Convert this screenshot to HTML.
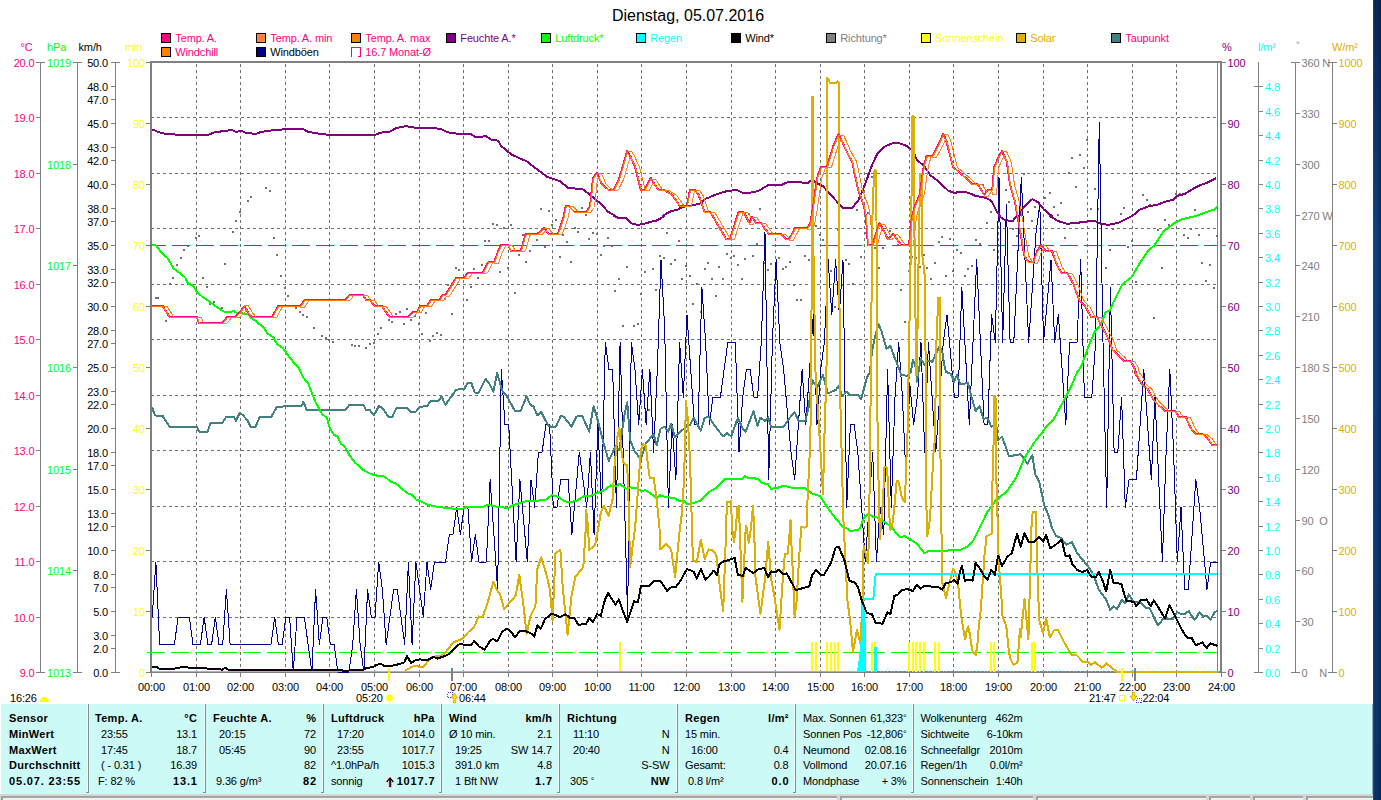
<!DOCTYPE html>
<html><head><meta charset="utf-8"><title>Dienstag, 05.07.2016</title>
<style>html,body{margin:0;padding:0;background:#fff;overflow:hidden}svg{display:block;font-family:"Liberation Sans",sans-serif}text{white-space:pre;letter-spacing:-0.14px}.b{letter-spacing:0.3px}.bd{letter-spacing:0.85px}.c{shape-rendering:crispEdges}</style></head><body>
<svg width="1381" height="800" viewBox="0 0 1381 800">
<defs><linearGradient id="bl" x1="0" y1="0" x2="0" y2="1"><stop offset="0" stop-color="#0a2250"/><stop offset="0.3" stop-color="#0c427f"/><stop offset="0.6" stop-color="#0b3a78"/><stop offset="1" stop-color="#0a2f66"/></linearGradient><linearGradient id="bl2" x1="0" y1="0" x2="1" y2="0"><stop offset="0" stop-color="#1a62b4" stop-opacity="0.7"/><stop offset="0.25" stop-color="#0c3f80" stop-opacity="0"/><stop offset="1" stop-color="#061a3c" stop-opacity="0.6"/></linearGradient></defs>
<rect x="0" y="0" width="1381" height="800" fill="#fff" />
<text x="688" y="21" fill="#000" text-anchor="middle" font-size="16" style="letter-spacing:0">Dienstag, 05.07.2016</text>
<rect class="c" x="161.5" y="33.5" width="9" height="9" fill="#ff0080" stroke="#000" stroke-width="1"/>
<text x="175.3" y="42" fill="#ff0080" text-anchor="start" font-size="11" >Temp. A.</text>
<rect class="c" x="256.5" y="33.5" width="9" height="9" fill="#ff8040" stroke="#000" stroke-width="1"/>
<text x="270.3" y="42" fill="#ff0080" text-anchor="start" font-size="11" >Temp. A. min</text>
<rect class="c" x="351.5" y="33.5" width="9" height="9" fill="#ff8000" stroke="#000" stroke-width="1"/>
<text x="365.3" y="42" fill="#ff0080" text-anchor="start" font-size="11" >Temp. A. max</text>
<rect class="c" x="446.5" y="33.5" width="9" height="9" fill="#800080" stroke="#000" stroke-width="1"/>
<text x="460.3" y="42" fill="#800080" text-anchor="start" font-size="11" >Feuchte A.*</text>
<rect class="c" x="541.5" y="33.5" width="9" height="9" fill="#00ff00" stroke="#000" stroke-width="1"/>
<text x="555.3" y="42" fill="#00ff00" text-anchor="start" font-size="11" >Luftdruck*</text>
<rect class="c" x="636.5" y="33.5" width="9" height="9" fill="#00ffff" stroke="#000" stroke-width="1"/>
<text x="650.3" y="42" fill="#00ffff" text-anchor="start" font-size="11" >Regen</text>
<rect class="c" x="731.5" y="33.5" width="9" height="9" fill="#000" stroke="#000" stroke-width="1"/>
<text x="745.3" y="42" fill="#000" text-anchor="start" font-size="11" >Wind*</text>
<rect class="c" x="826.5" y="33.5" width="9" height="9" fill="#808080" stroke="#000" stroke-width="1"/>
<text x="840.3" y="42" fill="#808080" text-anchor="start" font-size="11" >Richtung*</text>
<rect class="c" x="921.5" y="33.5" width="9" height="9" fill="#ffff00" stroke="#000" stroke-width="1"/>
<text x="935.3" y="42" fill="#ffff00" text-anchor="start" font-size="11" >Sonnenschein</text>
<rect class="c" x="1016.5" y="33.5" width="9" height="9" fill="#dcb000" stroke="#000" stroke-width="1"/>
<text x="1030.3" y="42" fill="#dcb000" text-anchor="start" font-size="11" >Solar</text>
<rect class="c" x="1111.5" y="33.5" width="9" height="9" fill="#408080" stroke="#000" stroke-width="1"/>
<text x="1125.3" y="42" fill="#ff0080" text-anchor="start" font-size="11" >Taupunkt</text>
<rect class="c" x="161.5" y="47.5" width="9" height="9" fill="#ff8000" stroke="#000" stroke-width="1"/>
<text x="175.3" y="56" fill="#ff0080" text-anchor="start" font-size="11" >Windchill</text>
<rect class="c" x="256.5" y="47.5" width="9" height="9" fill="#00008b" stroke="#000" stroke-width="1"/>
<text x="270.3" y="56" fill="#000" text-anchor="start" font-size="11" >Windböen</text>
<path class="c" d="M351.5 56.5V47.5H360.5V56.5H357.5" fill="none" stroke="#ff0080" stroke-width="1"/>
<text x="365.3" y="56" fill="#ff0080" text-anchor="start" font-size="11" >16.7 Monat-Ø</text>
<g class="c" stroke="#707070" stroke-width="1" stroke-dasharray="3 3" fill="none">
<line x1="196.5" y1="64" x2="196.5" y2="671"/>
<line x1="240.5" y1="64" x2="240.5" y2="671"/>
<line x1="285.5" y1="64" x2="285.5" y2="671"/>
<line x1="329.5" y1="64" x2="329.5" y2="671"/>
<line x1="374.5" y1="64" x2="374.5" y2="671"/>
<line x1="419.5" y1="64" x2="419.5" y2="671"/>
<line x1="463.5" y1="64" x2="463.5" y2="671"/>
<line x1="508.5" y1="64" x2="508.5" y2="671"/>
<line x1="552.5" y1="64" x2="552.5" y2="671"/>
<line x1="597.5" y1="64" x2="597.5" y2="671"/>
<line x1="641.5" y1="64" x2="641.5" y2="671"/>
<line x1="686.5" y1="64" x2="686.5" y2="671"/>
<line x1="731.5" y1="64" x2="731.5" y2="671"/>
<line x1="775.5" y1="64" x2="775.5" y2="671"/>
<line x1="820.5" y1="64" x2="820.5" y2="671"/>
<line x1="864.5" y1="64" x2="864.5" y2="671"/>
<line x1="909.5" y1="64" x2="909.5" y2="671"/>
<line x1="953.5" y1="64" x2="953.5" y2="671"/>
<line x1="998.5" y1="64" x2="998.5" y2="671"/>
<line x1="1043.5" y1="64" x2="1043.5" y2="671"/>
<line x1="1087.5" y1="64" x2="1087.5" y2="671"/>
<line x1="1132.5" y1="64" x2="1132.5" y2="671"/>
<line x1="1176.5" y1="64" x2="1176.5" y2="671"/>
<line x1="151" y1="117.5" x2="1217" y2="117.5"/>
<line x1="151" y1="173.5" x2="1217" y2="173.5"/>
<line x1="151" y1="228.5" x2="1217" y2="228.5"/>
<line x1="151" y1="284.5" x2="1217" y2="284.5"/>
<line x1="151" y1="339.5" x2="1217" y2="339.5"/>
<line x1="151" y1="395.5" x2="1217" y2="395.5"/>
<line x1="151" y1="450.5" x2="1217" y2="450.5"/>
<line x1="151" y1="506.5" x2="1217" y2="506.5"/>
<line x1="151" y1="561.5" x2="1217" y2="561.5"/>
<line x1="151" y1="617.5" x2="1217" y2="617.5"/>
</g>
<g class="c">
<rect x="150" y="61" width="2" height="612" fill="#808080" />
<rect x="150" y="61" width="1072" height="2" fill="#808080" />
<rect x="1217" y="62" width="1" height="610" fill="#808080" />
<rect x="1220" y="61" width="2" height="612" fill="#808080" />
<rect x="150" y="671" width="1072" height="2" fill="#808080" />
</g>
<g class="c" stroke-linejoin="round">
<rect x="265" y="187" width="2" height="2" fill="#707070" />
<rect x="269" y="190" width="2" height="2" fill="#707070" />
<rect x="250" y="196" width="2" height="2" fill="#707070" />
<rect x="247" y="200" width="2" height="2" fill="#707070" />
<rect x="239" y="211" width="2" height="2" fill="#707070" />
<rect x="235" y="220" width="2" height="2" fill="#707070" />
<rect x="232" y="231" width="2" height="2" fill="#707070" />
<rect x="198" y="235" width="2" height="2" fill="#707070" />
<rect x="195" y="237" width="2" height="2" fill="#707070" />
<rect x="187" y="245" width="2" height="2" fill="#707070" />
<rect x="183" y="249" width="2" height="2" fill="#707070" />
<rect x="180" y="257" width="2" height="2" fill="#707070" />
<rect x="176" y="264" width="2" height="2" fill="#707070" />
<rect x="172" y="277" width="2" height="2" fill="#707070" />
<rect x="169" y="283" width="2" height="2" fill="#707070" />
<rect x="155" y="297" width="2" height="2" fill="#707070" />
<rect x="157" y="297" width="2" height="2" fill="#707070" />
<rect x="165" y="320" width="2" height="2" fill="#707070" />
<rect x="224" y="263" width="2" height="2" fill="#707070" />
<rect x="202" y="277" width="2" height="2" fill="#707070" />
<rect x="206" y="286" width="2" height="2" fill="#707070" />
<rect x="209" y="303" width="2" height="2" fill="#707070" />
<rect x="213" y="301" width="2" height="2" fill="#707070" />
<rect x="221" y="307" width="2" height="2" fill="#707070" />
<rect x="273" y="237" width="2" height="2" fill="#707070" />
<rect x="276" y="254" width="2" height="2" fill="#707070" />
<rect x="280" y="275" width="2" height="2" fill="#707070" />
<rect x="284" y="287" width="2" height="2" fill="#707070" />
<rect x="287" y="295" width="2" height="2" fill="#707070" />
<rect x="295" y="307" width="2" height="2" fill="#707070" />
<rect x="299" y="311" width="2" height="2" fill="#707070" />
<rect x="302" y="314" width="2" height="2" fill="#707070" />
<rect x="306" y="316" width="2" height="2" fill="#707070" />
<rect x="313" y="327" width="2" height="2" fill="#707070" />
<rect x="321" y="335" width="2" height="2" fill="#707070" />
<rect x="325" y="337" width="2" height="2" fill="#707070" />
<rect x="328" y="339" width="2" height="2" fill="#707070" />
<rect x="332" y="341" width="2" height="2" fill="#707070" />
<rect x="351" y="344" width="2" height="2" fill="#707070" />
<rect x="354" y="345" width="2" height="2" fill="#707070" />
<rect x="358" y="345" width="2" height="2" fill="#707070" />
<rect x="365" y="347" width="2" height="2" fill="#707070" />
<rect x="369" y="343" width="2" height="2" fill="#707070" />
<rect x="373" y="342" width="2" height="2" fill="#707070" />
<rect x="377" y="333" width="2" height="2" fill="#707070" />
<rect x="380" y="327" width="2" height="2" fill="#707070" />
<rect x="388" y="319" width="2" height="2" fill="#707070" />
<rect x="391" y="321" width="2" height="2" fill="#707070" />
<rect x="395" y="313" width="2" height="2" fill="#707070" />
<rect x="399" y="311" width="2" height="2" fill="#707070" />
<rect x="403" y="323" width="2" height="2" fill="#707070" />
<rect x="406" y="308" width="2" height="2" fill="#707070" />
<rect x="410" y="319" width="2" height="2" fill="#707070" />
<rect x="414" y="315" width="2" height="2" fill="#707070" />
<rect x="418" y="323" width="2" height="2" fill="#707070" />
<rect x="492" y="223" width="2" height="2" fill="#707070" />
<rect x="496" y="224" width="2" height="2" fill="#707070" />
<rect x="503" y="227" width="2" height="2" fill="#707070" />
<rect x="510" y="224" width="2" height="2" fill="#707070" />
<rect x="484" y="240" width="2" height="2" fill="#707070" />
<rect x="488" y="240" width="2" height="2" fill="#707070" />
<rect x="455" y="267" width="2" height="2" fill="#707070" />
<rect x="458" y="269" width="2" height="2" fill="#707070" />
<rect x="473" y="268" width="2" height="2" fill="#707070" />
<rect x="481" y="264" width="2" height="2" fill="#707070" />
<rect x="477" y="277" width="2" height="2" fill="#707070" />
<rect x="499" y="271" width="2" height="2" fill="#707070" />
<rect x="507" y="267" width="2" height="2" fill="#707070" />
<rect x="447" y="284" width="2" height="2" fill="#707070" />
<rect x="470" y="286" width="2" height="2" fill="#707070" />
<rect x="466" y="299" width="2" height="2" fill="#707070" />
<rect x="444" y="298" width="2" height="2" fill="#707070" />
<rect x="425" y="312" width="2" height="2" fill="#707070" />
<rect x="451" y="313" width="2" height="2" fill="#707070" />
<rect x="421" y="333" width="2" height="2" fill="#707070" />
<rect x="429" y="340" width="2" height="2" fill="#707070" />
<rect x="432" y="335" width="2" height="2" fill="#707070" />
<rect x="436" y="332" width="2" height="2" fill="#707070" />
<rect x="440" y="334" width="2" height="2" fill="#707070" />
<rect x="514" y="292" width="2" height="2" fill="#707070" />
<rect x="518" y="254" width="2" height="2" fill="#707070" />
<rect x="522" y="234" width="2" height="2" fill="#707070" />
<rect x="525" y="261" width="2" height="2" fill="#707070" />
<rect x="529" y="250" width="2" height="2" fill="#707070" />
<rect x="536" y="239" width="2" height="2" fill="#707070" />
<rect x="544" y="246" width="2" height="2" fill="#707070" />
<rect x="551" y="224" width="2" height="2" fill="#707070" />
<rect x="555" y="219" width="2" height="2" fill="#707070" />
<rect x="559" y="256" width="2" height="2" fill="#707070" />
<rect x="562" y="234" width="2" height="2" fill="#707070" />
<rect x="566" y="241" width="2" height="2" fill="#707070" />
<rect x="570" y="261" width="2" height="2" fill="#707070" />
<rect x="574" y="227" width="2" height="2" fill="#707070" />
<rect x="577" y="231" width="2" height="2" fill="#707070" />
<rect x="588" y="238" width="2" height="2" fill="#707070" />
<rect x="592" y="232" width="2" height="2" fill="#707070" />
<rect x="596" y="233" width="2" height="2" fill="#707070" />
<rect x="600" y="254" width="2" height="2" fill="#707070" />
<rect x="603" y="245" width="2" height="2" fill="#707070" />
<rect x="607" y="237" width="2" height="2" fill="#707070" />
<rect x="611" y="245" width="2" height="2" fill="#707070" />
<rect x="614" y="290" width="2" height="2" fill="#707070" />
<rect x="618" y="278" width="2" height="2" fill="#707070" />
<rect x="622" y="325" width="2" height="2" fill="#707070" />
<rect x="626" y="266" width="2" height="2" fill="#707070" />
<rect x="633" y="325" width="2" height="2" fill="#707070" />
<rect x="637" y="323" width="2" height="2" fill="#707070" />
<rect x="640" y="293" width="2" height="2" fill="#707070" />
<rect x="644" y="271" width="2" height="2" fill="#707070" />
<rect x="652" y="268" width="2" height="2" fill="#707070" />
<rect x="655" y="289" width="2" height="2" fill="#707070" />
<rect x="659" y="255" width="2" height="2" fill="#707070" />
<rect x="663" y="257" width="2" height="2" fill="#707070" />
<rect x="666" y="232" width="2" height="2" fill="#707070" />
<rect x="670" y="263" width="2" height="2" fill="#707070" />
<rect x="674" y="259" width="2" height="2" fill="#707070" />
<rect x="678" y="240" width="2" height="2" fill="#707070" />
<rect x="681" y="278" width="2" height="2" fill="#707070" />
<rect x="685" y="265" width="2" height="2" fill="#707070" />
<rect x="689" y="275" width="2" height="2" fill="#707070" />
<rect x="540" y="208" width="2" height="2" fill="#707070" />
<rect x="548" y="210" width="2" height="2" fill="#707070" />
<rect x="581" y="207" width="2" height="2" fill="#707070" />
<rect x="585" y="214" width="2" height="2" fill="#707070" />
<rect x="982" y="184" width="2" height="2" fill="#707070" />
<rect x="1005" y="189" width="2" height="2" fill="#707070" />
<rect x="1008" y="201" width="2" height="2" fill="#707070" />
<rect x="990" y="211" width="2" height="2" fill="#707070" />
<rect x="1023" y="173" width="2" height="2" fill="#707070" />
<rect x="1027" y="211" width="2" height="2" fill="#707070" />
<rect x="1034" y="206" width="2" height="2" fill="#707070" />
<rect x="1038" y="203" width="2" height="2" fill="#707070" />
<rect x="1044" y="197" width="2" height="2" fill="#707070" />
<rect x="1049" y="192" width="2" height="2" fill="#707070" />
<rect x="1053" y="206" width="2" height="2" fill="#707070" />
<rect x="1057" y="214" width="2" height="2" fill="#707070" />
<rect x="1060" y="202" width="2" height="2" fill="#707070" />
<rect x="1068" y="172" width="2" height="2" fill="#707070" />
<rect x="1071" y="157" width="2" height="2" fill="#707070" />
<rect x="1075" y="186" width="2" height="2" fill="#707070" />
<rect x="1079" y="154" width="2" height="2" fill="#707070" />
<rect x="1083" y="167" width="2" height="2" fill="#707070" />
<rect x="1086" y="139" width="2" height="2" fill="#707070" />
<rect x="1090" y="208" width="2" height="2" fill="#707070" />
<rect x="1094" y="188" width="2" height="2" fill="#707070" />
<rect x="1097" y="208" width="2" height="2" fill="#707070" />
<rect x="1120" y="213" width="2" height="2" fill="#707070" />
<rect x="1123" y="207" width="2" height="2" fill="#707070" />
<rect x="1142" y="194" width="2" height="2" fill="#707070" />
<rect x="1146" y="199" width="2" height="2" fill="#707070" />
<rect x="1149" y="204" width="2" height="2" fill="#707070" />
<rect x="1175" y="193" width="2" height="2" fill="#707070" />
<rect x="1179" y="193" width="2" height="2" fill="#707070" />
<rect x="1194" y="209" width="2" height="2" fill="#707070" />
<rect x="759" y="208" width="2" height="2" fill="#707070" />
<rect x="748" y="213" width="2" height="2" fill="#707070" />
<rect x="856" y="209" width="2" height="2" fill="#707070" />
<rect x="871" y="176" width="2" height="2" fill="#707070" />
<rect x="867" y="212" width="2" height="2" fill="#707070" />
<rect x="986" y="222" width="2" height="2" fill="#707070" />
<rect x="975" y="239" width="2" height="2" fill="#707070" />
<rect x="979" y="243" width="2" height="2" fill="#707070" />
<rect x="960" y="252" width="2" height="2" fill="#707070" />
<rect x="993" y="249" width="2" height="2" fill="#707070" />
<rect x="967" y="268" width="2" height="2" fill="#707070" />
<rect x="971" y="265" width="2" height="2" fill="#707070" />
<rect x="964" y="275" width="2" height="2" fill="#707070" />
<rect x="1012" y="228" width="2" height="2" fill="#707070" />
<rect x="1016" y="235" width="2" height="2" fill="#707070" />
<rect x="1031" y="220" width="2" height="2" fill="#707070" />
<rect x="1064" y="237" width="2" height="2" fill="#707070" />
<rect x="1105" y="267" width="2" height="2" fill="#707070" />
<rect x="1109" y="249" width="2" height="2" fill="#707070" />
<rect x="1112" y="228" width="2" height="2" fill="#707070" />
<rect x="1127" y="246" width="2" height="2" fill="#707070" />
<rect x="1131" y="240" width="2" height="2" fill="#707070" />
<rect x="1135" y="281" width="2" height="2" fill="#707070" />
<rect x="1153" y="317" width="2" height="2" fill="#707070" />
<rect x="1157" y="229" width="2" height="2" fill="#707070" />
<rect x="1161" y="267" width="2" height="2" fill="#707070" />
<rect x="1164" y="219" width="2" height="2" fill="#707070" />
<rect x="1168" y="224" width="2" height="2" fill="#707070" />
<rect x="1183" y="234" width="2" height="2" fill="#707070" />
<rect x="1187" y="237" width="2" height="2" fill="#707070" />
<rect x="1190" y="228" width="2" height="2" fill="#707070" />
<rect x="1198" y="234" width="2" height="2" fill="#707070" />
<rect x="1201" y="262" width="2" height="2" fill="#707070" />
<rect x="1205" y="280" width="2" height="2" fill="#707070" />
<rect x="1209" y="264" width="2" height="2" fill="#707070" />
<rect x="1213" y="287" width="2" height="2" fill="#707070" />
<rect x="1216" y="235" width="2" height="2" fill="#707070" />
<rect x="689" y="275" width="2" height="2" fill="#707070" />
<rect x="692" y="303" width="2" height="2" fill="#707070" />
<rect x="696" y="283" width="2" height="2" fill="#707070" />
<rect x="700" y="311" width="2" height="2" fill="#707070" />
<rect x="704" y="268" width="2" height="2" fill="#707070" />
<rect x="707" y="262" width="2" height="2" fill="#707070" />
<rect x="711" y="278" width="2" height="2" fill="#707070" />
<rect x="715" y="295" width="2" height="2" fill="#707070" />
<rect x="718" y="266" width="2" height="2" fill="#707070" />
<rect x="722" y="278" width="2" height="2" fill="#707070" />
<rect x="726" y="253" width="2" height="2" fill="#707070" />
<rect x="730" y="257" width="2" height="2" fill="#707070" />
<rect x="733" y="255" width="2" height="2" fill="#707070" />
<rect x="737" y="264" width="2" height="2" fill="#707070" />
<rect x="741" y="278" width="2" height="2" fill="#707070" />
<rect x="744" y="258" width="2" height="2" fill="#707070" />
<rect x="752" y="255" width="2" height="2" fill="#707070" />
<rect x="756" y="243" width="2" height="2" fill="#707070" />
<rect x="763" y="262" width="2" height="2" fill="#707070" />
<rect x="767" y="269" width="2" height="2" fill="#707070" />
<rect x="770" y="263" width="2" height="2" fill="#707070" />
<rect x="774" y="279" width="2" height="2" fill="#707070" />
<rect x="778" y="257" width="2" height="2" fill="#707070" />
<rect x="782" y="268" width="2" height="2" fill="#707070" />
<rect x="785" y="266" width="2" height="2" fill="#707070" />
<rect x="789" y="261" width="2" height="2" fill="#707070" />
<rect x="793" y="284" width="2" height="2" fill="#707070" />
<rect x="796" y="299" width="2" height="2" fill="#707070" />
<rect x="800" y="299" width="2" height="2" fill="#707070" />
<rect x="804" y="255" width="2" height="2" fill="#707070" />
<rect x="808" y="259" width="2" height="2" fill="#707070" />
<rect x="811" y="231" width="2" height="2" fill="#707070" />
<rect x="815" y="225" width="2" height="2" fill="#707070" />
<rect x="819" y="234" width="2" height="2" fill="#707070" />
<rect x="822" y="239" width="2" height="2" fill="#707070" />
<rect x="830" y="270" width="2" height="2" fill="#707070" />
<rect x="834" y="306" width="2" height="2" fill="#707070" />
<rect x="837" y="229" width="2" height="2" fill="#707070" />
<rect x="841" y="284" width="2" height="2" fill="#707070" />
<rect x="845" y="259" width="2" height="2" fill="#707070" />
<rect x="848" y="263" width="2" height="2" fill="#707070" />
<rect x="852" y="283" width="2" height="2" fill="#707070" />
<rect x="860" y="256" width="2" height="2" fill="#707070" />
<rect x="864" y="232" width="2" height="2" fill="#707070" />
<rect x="874" y="247" width="2" height="2" fill="#707070" />
<rect x="878" y="267" width="2" height="2" fill="#707070" />
<rect x="882" y="247" width="2" height="2" fill="#707070" />
<rect x="889" y="230" width="2" height="2" fill="#707070" />
<rect x="897" y="244" width="2" height="2" fill="#707070" />
<rect x="900" y="289" width="2" height="2" fill="#707070" />
<rect x="904" y="321" width="2" height="2" fill="#707070" />
<rect x="908" y="270" width="2" height="2" fill="#707070" />
<rect x="911" y="256" width="2" height="2" fill="#707070" />
<rect x="915" y="257" width="2" height="2" fill="#707070" />
<rect x="919" y="266" width="2" height="2" fill="#707070" />
<rect x="923" y="254" width="2" height="2" fill="#707070" />
<rect x="926" y="267" width="2" height="2" fill="#707070" />
<rect x="930" y="278" width="2" height="2" fill="#707070" />
<rect x="934" y="262" width="2" height="2" fill="#707070" />
<rect x="938" y="241" width="2" height="2" fill="#707070" />
<rect x="941" y="236" width="2" height="2" fill="#707070" />
<rect x="945" y="275" width="2" height="2" fill="#707070" />
<rect x="949" y="238" width="2" height="2" fill="#707070" />
<rect x="952" y="270" width="2" height="2" fill="#707070" />
<rect x="956" y="249" width="2" height="2" fill="#707070" />
<rect x="648" y="409" width="2" height="2" fill="#707070" />
<line x1="148" y1="245.5" x2="1217" y2="245.5" stroke="#ff0080" stroke-width="1" stroke-dasharray="18 6"/>
<line x1="147" y1="652.5" x2="1217" y2="652.5" stroke="#00ff00" stroke-width="1" stroke-dasharray="18 6"/>
<rect x="619" y="642" width="2" height="30" fill="#ffff00" />
<rect x="811" y="642" width="2" height="30" fill="#ffff00" />
<rect x="815" y="642" width="2" height="30" fill="#ffff00" />
<rect x="826" y="642" width="2" height="30" fill="#ffff00" />
<rect x="830" y="642" width="2" height="30" fill="#ffff00" />
<rect x="834" y="642" width="2" height="30" fill="#ffff00" />
<rect x="837" y="642" width="2" height="30" fill="#ffff00" />
<rect x="871" y="642" width="2" height="30" fill="#ffff00" />
<rect x="874" y="642" width="2" height="30" fill="#ffff00" />
<rect x="908" y="642" width="2" height="30" fill="#ffff00" />
<rect x="912" y="642" width="2" height="30" fill="#ffff00" />
<rect x="915" y="642" width="2" height="30" fill="#ffff00" />
<rect x="919" y="642" width="2" height="30" fill="#ffff00" />
<rect x="923" y="642" width="2" height="30" fill="#ffff00" />
<rect x="934" y="642" width="2" height="30" fill="#ffff00" />
<rect x="938" y="642" width="2" height="30" fill="#ffff00" />
<rect x="990" y="642" width="2" height="30" fill="#ffff00" />
<rect x="993" y="642" width="2" height="30" fill="#ffff00" />
<rect x="1031" y="642" width="2" height="30" fill="#ffff00" />
<rect x="1034" y="642" width="2" height="30" fill="#ffff00" />
<polyline points="152.2,617 155.9,562 159.6,644.5 163.3,644.5 167,644.5 170.7,644.5 174.4,644.5 178.1,617 181.9,617 185.6,617 189.3,617 193,644.5 196.7,644.5 200.4,644.5 204.1,617 207.9,644.5 211.6,644.5 215.3,617 219,644.5 222.7,644.5 226.4,589.5 230.1,644.5 233.9,644.5 237.6,644.5 241.3,644.5 245,644.5 248.7,644.5 252.4,644.5 256.1,644.5 259.9,644.5 263.6,644.5 267.3,644.5 271,644.5 274.7,617 278.4,644.5 282.1,644.5 285.9,617 289.6,617 293.3,672 297,617 300.7,617 304.4,617 308.1,644.5 311.9,672 315.6,589.5 319.3,644.5 323,617 326.7,617 330.4,644.5 334.1,644.5 337.9,672 341.6,672 345.3,672 349,672 352.7,644.5 356.4,589.5 360.1,644.5 363.9,672 367.6,589.5 371.3,617 375,617 378.7,562 382.4,589.5 386.1,644.5 389.9,617 393.6,589.5 397.3,589.5 401,617 404.7,644.5 408.4,562 412.1,644.5 415.9,562 419.6,589.5 423.3,617 427,562 430.7,589.5 434.4,562 438.1,562 441.9,562 445.6,562 449.3,534.5 453,534.5 456.7,507.1 460.4,534.5 464.1,507.1 467.9,507.1 471.6,562 475.3,534.5 479,562 482.7,562 486.4,562 490.1,479.6 493.9,534.5 497.6,589.5 501.3,369.6 505,424.6 508.7,424.6 512.4,493.3 516.1,562 519.9,479.6 523.6,520.8 527.3,562 531,479.6 534.7,507.1 538.4,452.1 542.1,452.1 545.9,424.6 549.6,424.6 553.3,507.1 557,507.1 560.7,479.6 564.4,479.6 568.1,479.6 571.9,534.5 575.6,493.3 579.3,452.1 583,479.6 586.7,507.1 590.4,452.1 594.1,534.5 597.9,424.6 601.6,507.1 605.3,342.1 609,369.6 612.7,369.6 616.4,507.1 620.1,342.1 623.9,479.6 627.6,617 631.3,342.1 635,369.6 638.7,424.6 642.4,369.6 646.1,424.6 649.9,369.6 653.6,452.1 657.3,369.6 661,259.7 664.7,328.4 668.4,507.1 672.1,424.6 675.9,479.6 679.6,342.1 683.3,397.1 687,314.6 690.7,369.6 694.4,424.6 698.1,424.6 701.9,287.1 705.6,342.1 709.3,424.6 713,397.1 716.7,397.1 720.4,397.1 724.1,369.6 727.9,342.1 731.6,342.1 735.3,342.1 739,452.1 742.7,397.1 746.4,369.6 750.1,369.6 753.9,397.1 757.6,397.1 761.3,342.1 765,232.2 768.7,479.6 772.4,342.1 776.1,259.7 779.8,342.1 783.6,369.6 787.3,410.8 791,452.1 794.7,479.6 798.4,424.6 802.1,369.6 805.8,424.6 809.6,369.6 813.3,314.6 817,424.6 820.7,369.6 824.4,342.1 828.1,259.7 831.8,314.6 835.6,259.7 839.3,314.6 843,259.7 846.7,507.1 850.4,424.6 854.1,424.6 857.8,452.1 861.6,507.1 865.3,562 869,507.1 872.7,452.1 876.4,562 880.1,507.1 883.8,534.5 887.6,369.6 891.3,507.1 895,397.1 898.7,342.1 902.4,397.1 906.1,479.6 909.8,383.4 913.6,424.6 917.3,397.1 921,342.1 924.7,452.1 928.4,342.1 932.1,397.1 935.8,452.1 939.6,397.1 943.3,342.1 947,314.6 950.7,355.9 954.4,397.1 958.1,397.1 961.8,287.1 965.6,355.9 969.3,424.6 973,342.1 976.7,259.7 980.4,342.1 984.1,424.6 987.8,424.6 991.6,314.6 995.3,342.1 999,177.2 1002.7,342.1 1006.4,204.7 1010.1,342.1 1013.8,342.1 1017.6,259.7 1021.3,177.2 1025,259.7 1028.7,342.1 1032.4,287.1 1036.1,232.2 1039.8,204.7 1043.6,342.1 1047.3,300.9 1051,259.7 1054.7,342.1 1058.4,314.6 1062.1,369.6 1065.8,424.6 1069.6,342.1 1073.3,342.1 1077,342.1 1080.7,259.7 1084.4,397.1 1088.1,397.1 1091.8,397.1 1095.6,342.1 1099.3,122.2 1103,342.1 1106.7,507.1 1110.4,287.1 1114.1,452.1 1117.8,452.1 1121.6,397.1 1125.3,507.1 1129,479.6 1132.7,479.6 1136.4,479.6 1140.1,424.6 1143.8,369.6 1147.6,424.6 1151.3,479.6 1155,397.1 1158.7,479.6 1162.4,562 1166.1,452.1 1169.8,369.6 1173.6,452.1 1177.3,562 1181,507.1 1184.7,589.5 1188.4,589.5 1192.1,534.5 1195.8,479.6 1199.6,507.1 1203.3,548.3 1207,589.5 1210.7,562 1214.4,562 1218.1,562" fill="none" stroke="#00008b" stroke-width="1" />
<polyline points="152,407.2 154.9,415.4 162.7,416 169.6,426.7 196.9,426.7 198.9,431.6 207.7,431.6 210.6,423.2 222.3,422.8 226.2,417 234.1,417 236,420.9 239.9,412.7 243.8,416 247.8,420.9 250.7,426.7 255.6,426.7 259.5,417.4 271.2,417 277.1,406.6 301.5,406.2 303.5,401.7 306.4,409.7 345.5,409.7 349.4,404.8 363.1,404.8 366,409.7 369.9,410.1 373.9,415.4 378.7,406.2 381.7,407.2 388.5,416.6 392.4,416.6 396.3,408.2 407.1,408.2 411,411.7 415.9,411.7 420,406.8 426.8,406.2 430.8,401.3 438.6,400.9 441.5,396.4 445.4,404.8 456.2,389.6 464,389.2 467.9,382.8 471.2,382.8 474.7,392.5 478.7,392.5 485.5,378.8 489.4,383.7 493.3,391.6 497.2,373 502.1,390.6 507,396.4 514.8,410.7 520.7,410.7 526.6,396.4 530.5,405.2 533.4,406.2 537.3,415.4 541.2,412.1 548.1,425.2 551,426.7 555.9,426.7 560.8,416 563.7,416.6 571.5,426.7 576.4,416.6 582.3,416 589.1,431.6 593.6,406.2 596.9,417 602.8,440.4 608.7,461 615.5,446.3 619.4,450.2 624.3,416 627.2,402.3 630.2,440.4 635.1,452.2 640.9,459 645.8,443.4 653.6,434.2 656.6,445.3 660.5,428.7 664.4,426.7 668.3,431.6 671.2,423.8 675.1,437.5 680,431.6 690,424.8 693.9,417.9 700.8,430.7 704.7,417.9 708.6,416.6 715.4,426.7 723.2,436.5 727.1,433 731.1,436.5 737.9,417.9 742.8,428.7 745.7,431.6 753.5,411.1 757.5,425.8 760.4,417.9 765.3,420.9 768.2,417.4 771.1,426.7 783.8,426.7 789.7,417.9 794.6,412.1 798.5,420.9 805.4,420.9 808.3,409.1 812.2,379.8 817.1,387.6 822.9,374.9 827.8,393.5 835.7,390 838.6,386.1 842.5,396.4 846.4,391.6 849.3,394.5 858.1,395.1 861.1,399 866.9,377.9 869.9,372 871.8,352.9 874.8,337.2 878.7,324.5 881.6,331.4 886.5,348.9 890.4,346 894.3,356.8 898.2,366.5 900.2,372 901.2,374.9 907,375.9 910.9,372 912.9,359.7 916.8,370.5 916.8,381.8 920.7,358.7 924.6,364.6 927.5,360.7 932.4,361.7 936.3,352.9 939.3,347 942.2,350.9 944.2,364.6 946.1,372 951,374 953.9,381.8 956.9,374.9 960,383.7 963.9,383.7 967.8,382.8 971.7,397.4 975.6,411.1 979.6,406.2 983.5,418.9 987.4,417.9 991.3,426.7 996.2,424.8 998.1,440.4 1002,436.5 1005.9,447.3 1008.9,456.1 1016.7,455.1 1020.6,454.1 1027.5,463.9 1032.3,455.1 1035.3,474.6 1039.2,481.5 1044.1,504.9 1049,516.7 1051.9,528 1055.8,535.8 1060.7,537.8 1066.6,544.6 1071.8,542.1 1077.3,553.4 1087.1,565.1 1092.9,573.4 1098.8,589.6 1106.6,600.3 1110.2,610.1 1113.5,606.2 1117,609.1 1121.9,599.9 1125.2,603.3 1128.7,594.5 1134,602.3 1139.9,601.3 1145.7,608.2 1149.6,608.2 1157.9,625.4 1163.3,618.9 1173.1,618.9 1177,612.1 1180.9,614 1184.8,614 1188.7,611.1 1194.6,619.9 1199.5,612.1 1202.4,616 1206.7,615.6 1210.3,619.9 1215.1,611.7 1217.7,611.1" fill="none" stroke="#408080" stroke-width="2" />
<polyline points="152,244.9 155.9,245.3 161.7,253.1 167.6,258 173.5,268.4 179.3,272.7 185.2,277.6 188.1,283.5 193,285.4 196.9,292.2 202.8,297.1 208.7,301 216.5,306.9 223.3,311.4 228.2,312.2 234.1,311.2 237,313.2 247.8,313.8 250.7,317.7 256.6,321.6 263.4,327.4 267.3,333.3 273.2,337.2 277.1,344.1 282.9,348 286.9,353.8 293.7,362.6 298.6,367.5 300.5,372 303.5,377.9 308.4,383.7 312.3,394.5 316.2,403.3 322,414 326.9,417.9 329.9,428.7 333.8,434.6 337.7,436.5 340.6,443.4 344.5,446.3 349.4,455.1 355.3,462.9 363.1,469.8 370.9,474.1 376.8,475.6 384.6,476.6 390.5,481.5 396.3,483.8 402.2,489.3 408.1,493.6 412,494.8 415.9,499.5 420,501 427.8,504.9 437.6,506.9 455.2,508.9 462,508.9 466.9,506.9 482.6,507.3 487.5,504.9 498.2,506.9 508,507.9 513.8,504.9 525.6,501.4 545.1,500.1 552,495.2 558.8,497.1 564.7,501.4 570.5,502 576.4,501 584.2,496.1 590.1,496.1 596,493.6 603.8,490.3 610.6,485.4 615.5,486.4 619.4,483.8 627.2,489.3 630.2,487.4 637,488.3 640.9,490.9 645.8,490.3 651.7,494.2 656.6,498.1 659.5,495.2 666.3,497.1 674.2,498.1 680,501.4 683.9,501 686.9,504 690,504 699.8,501 708.6,492.2 715.4,488.3 725.2,479.1 742.8,478.6 744.7,476.2 748.7,478.2 757.5,478.6 762.3,483 768.2,484.4 771.1,488.9 778,487.7 783.8,485.8 791.7,487.7 805.4,488.3 811.2,493.2 820,496.1 826.9,506.9 836.6,519.6 842.5,526.5 846.4,528 850.3,530.9 858.1,530 860.1,528 863,519.6 867.9,513.7 873.8,517.1 878.7,517.7 885.5,522.5 891.4,527.4 895.3,531.9 900.2,536.8 905.1,536.2 916.8,543.6 924.6,553.4 927.5,551.5 936.3,551.1 960,549.9 967.8,546.6 973.7,539.7 977.6,531.9 979.6,528 987.4,511.8 995.2,501 1006.9,491.3 1016.7,476.6 1024.5,458 1034.3,442.4 1042.1,432.6 1046,426.7 1053.8,418.9 1059.7,408.2 1065.6,397.4 1071.4,385.7 1077.3,372 1081.2,366.5 1085.1,355.8 1089,345 1094.9,331.4 1100.8,324.5 1105.7,311.8 1109.6,310.8 1114.5,300.1 1122.3,284.4 1132,276.6 1139.9,262.9 1147.7,251.2 1154.5,245.3 1163.3,231.6 1173.1,223.8 1182.9,218.9 1194.6,216.4 1206.3,212.1 1214.2,209.6 1217.7,205.7" fill="none" stroke="#00ff00" stroke-width="2" />
<polyline points="152,129.4 161.7,133.3 177.4,134.7 208.7,134.7 214.5,132.3 232.1,130 236,131.9 240.9,130.8 245.8,132.7 255.6,133.9 261.4,131.9 275.1,130 290.8,128.8 302.5,128.8 308.4,131.9 320.1,133.9 329.9,134.9 374.8,134.9 380.7,132.7 390.5,131.4 396.3,128 406.1,126.1 413.9,127.5 420,127.8 429.8,128 440.5,128.8 447.4,132.3 457.1,133.7 470.8,133.9 474.7,136.6 482.6,136.6 485.5,135.9 492.3,140.2 498.2,140.6 501.1,146 511.9,154.8 526.6,161.3 537.3,169.5 547.1,176.9 559.8,181.2 568.6,188.1 582.3,189 590.1,194.9 601.8,204.7 607.7,211.5 615.5,216 613.6,216 619.4,218.3 626.3,218.3 631.2,223.4 637,224.8 642.9,224.2 650.7,221.9 657.5,220.3 664.4,216 662.4,216 670.3,211.5 678.1,209.6 682,207 690,205.7 699.8,203.7 705.6,198.8 717.4,193.9 727.1,191 736.9,190 742.8,192.9 748.7,192.9 758.4,191 768.2,185.1 781.9,184.7 787.8,182.2 799.5,182.2 807.3,183.2 812.2,179.7 815.1,182.2 822.9,186.1 830.8,194.9 842.5,207.6 852.3,207.6 858.1,200.8 864,187.1 871.8,165.6 877.7,152.9 885.5,146 893.3,143.1 899.2,143.1 907,146 912.9,150.9 916.8,159.7 924.6,166.6 930.5,175.4 938.3,181.2 948.1,190.6 953.9,192.9 960,192 967.8,192.6 975.6,195.9 985.4,197.8 991.3,200.8 996.2,210.5 1000.1,216 999.1,216 1005,220.3 1012.8,220.9 1016.7,216 1019.6,216 1022.6,208.6 1027.5,203.7 1032.3,199.2 1038.2,202.3 1044.1,209.6 1051.9,216 1049.9,216 1057.8,220.9 1066.6,223.8 1077.3,222.8 1087.1,221.5 1094.9,220.9 1100.8,223.8 1108.6,224.8 1118.4,222.8 1126.2,218.9 1132,216 1134,214.5 1139.9,209.6 1147.7,206.6 1157.5,204.7 1165.3,201.7 1173.1,199.8 1177,195.9 1184.8,193.9 1192.7,189 1200.5,185.1 1208.3,182.2 1216.1,178.3" fill="none" stroke="#800080" stroke-width="2" />
<polyline points="405.1,670.7 410,667.8 414.9,665.8 420,666.8 422.9,667.2 431.7,657 443.5,655.1 453.2,642.4 462,639 468.9,631.6 473.8,627.7 478.7,616.4 482.6,617 487.5,603.3 493.3,581.8 497.2,590.6 500.2,594.5 504.1,609.1 509.9,602.3 515.8,595.5 519.3,574.9 523.6,606.2 526.6,633.6 530.5,616 535.4,606.2 537.3,569.1 541.2,557.3 547.1,576.9 550,590.6 552.6,620.9 555.5,553.4 560.4,549.9 562.7,586.7 567.6,635.1 571.5,596.4 575.4,576.9 583.3,567.1 585.8,528 586.2,509.8 588.1,528 589.1,549.9 595,545.6 598.3,528 600.8,512.8 603.8,505.9 608.7,515.7 612.6,499.1 614.5,465.8 617.5,436.5 619.4,427.7 621.4,450.2 623.3,462.9 627.2,465.5 628.2,489.3 629.2,528 630.2,567.1 632.1,550.5 635.1,528 638,489.3 640.9,450.2 642.9,444.3 645.8,445.3 647.8,463.9 649.7,477.6 653.6,477.6 656.6,499.1 659.5,528 660.1,549.5 666.3,543.6 671.2,549.9 675.1,576.9 679.1,535.8 680,528 682,512.8 683.9,481.5 684.9,450.2 685.9,401.3 687.8,418.9 690,460 692,528 692.9,560.3 696.8,562.2 700.8,539.7 704.7,559.3 708.6,549.5 712.5,549.9 716.4,555.4 719.3,582.7 723.2,611.1 726.2,528 726.8,502 731.1,501.4 732,528 734,541.7 735.9,528 737.3,506.9 738.9,505.9 739.7,528 742.4,601.9 745.7,528 746.3,525.5 748.7,542.7 751,528 753,505.9 754.1,528 755.5,576.9 760.4,614 765.3,576.9 768.2,541.7 771.1,578.8 774.1,594.5 779.5,629.7 782.9,576.9 784.8,554.4 787.8,553.4 790.1,528 790.5,519.6 791.2,540 792.7,570 794.6,617 796.7,601 797.7,581 799.3,555 801.3,527 804.8,527.6 806.6,526.6 807.5,500 810.4,440 811.6,300 812.1,97 812.9,97 813.4,250 815.5,372 819.8,440 823,494 824.3,440 826.5,372 827,150 827.2,78 828.5,79 830,83 836,83 837.5,81 839.2,83 839.6,372 841.3,440 843.4,520 847.4,600 850,620 853,652 857,629.5 860.6,644.6 861.1,630 862.7,600 863.6,545 866.2,555.5 868.2,563 869.2,520 870.2,440 872.3,221 873.5,187 874.6,169.5 876.1,170.5 876.5,221 877.6,440 879.9,539 881.4,520 883,500 884.5,467 887.1,467.4 888.1,488 889.6,520 890.5,530 892.2,525 893,520 895,500 896.7,480.6 898.3,480.6 899.8,487.7 901.8,497.8 904.8,502 905.9,475.5 906.6,455 907.4,440 909,350 910.6,260 911.6,190 912.3,116.3 913.9,116.5 914.3,221 915.3,300 916.2,375 916.9,375 917.9,300 919.2,225 920.1,174 921.7,174 922,253 925.2,279 925.9,440 926.6,520 927.2,536.2 928.7,528 929.7,521 930.7,506 932.2,478.5 933.7,450 934.8,440 936.5,340 938.3,297.5 940,298 940.3,440 940.8,484.6 941.4,520 941.9,581 945.9,598 950,581 953,568.7 955.5,572.7 958,583 959.6,600 961.1,615 963.2,628.4 965.2,639.5 966.7,630.4 968.2,626.4 969.7,633.5 972.3,650.7 975.8,655.3 977.4,644.6 978.9,625.3 980.4,613.2 981.4,601 982.4,586 984.5,555.5 986.5,536.2 991.6,533.7 992.1,488.7 993.1,470.4 993.6,440 994,395.5 995.5,396 996.1,440 996.4,479.5 997.6,520 998.7,560.6 1000.2,580.8 1001.7,601 1002.2,615.2 1006.3,626.4 1008.8,650.7 1010.3,658.8 1013.4,664.9 1017.4,662.9 1018.4,650.7 1020,628.4 1020.6,637.5 1024.5,599.4 1028.4,639.4 1030.4,567 1031.4,528 1032.7,511.8 1035.9,511.8 1036.2,528 1037.2,567 1039.2,620 1043.1,633.6 1046,618 1049.9,637.5 1053.8,630.6 1057.8,629.7 1063.6,641.4 1071.4,655 1076.3,654.7 1083.2,662 1088,662 1091,664.9 1094.9,662 1101.7,667.8 1106.6,663.5 1116.4,671.5 1218,671.5" fill="none" stroke="#dcb000" stroke-width="2" />
<polyline points="152,306 162.7,306 169.6,317 196.9,317 198.9,323 222.3,323 227.2,317 235,317 239.9,312 244.4,306 247.8,312 251.7,317 272.2,317 278.1,306 300.5,306 304.5,300 345.5,300 349.4,295 363.1,295 366,300 369.9,300 374.8,306 381.7,306 389.5,317 408.1,317 413,312 416.9,312 420,306 426.8,306 430.8,300 439.6,300 442.5,295 445.4,295 452.3,284 456.2,278 464,278 467.9,273 482.6,273 488.4,262 494.3,262 498.2,251 501.1,245 508,245 510.9,251 520.7,251 525.6,234 537.3,234 544.1,228 549,234 557.8,234 563.7,217 565.7,206 568.6,206 574.5,212 586.2,212 590.1,206 593,178 596.9,173 601.8,184 608.7,190 613.6,190 619.4,178 627.2,151 630.2,156 635.1,167 640.9,190 644.8,190 650.7,178 658.5,190 664.4,190 672.2,195 680,206 686.9,206 690,190 690,190 695.1,190 698.7,195 704.5,212 710.3,212 726.2,239 729.9,239 738.6,212 743.6,212 749.4,223 752.3,217 755.9,223 761,223 769,234 781.3,234 785.7,239 789.3,239 795.1,228 807.4,228 810.3,223 813.2,206 817.1,178 821,167 826.9,167 833.7,145 838.6,134 841.5,140 846.4,151 852.3,162 858.1,190 864,206 866,217 867.9,245 872.8,245 875.7,234 879.6,223 885.5,234 887.5,239 893.3,234 901.2,245 909,245 911.9,217 914.8,206 919.7,195 923.6,167 926.6,156 932.4,156 938.3,145 943.2,134 946.1,140 953,167 960,173 965.9,178 971.7,184 977.6,184 984.4,195 987.4,190 992.3,190 994.2,167 999.1,156 1002,151 1006.9,162 1009.9,184 1014.7,201 1017.7,217 1020.6,234 1024.5,256 1028.4,262 1033.3,262 1037.2,251 1041.1,245 1046,251 1051.9,251 1057.8,267 1061.7,273 1067.5,273 1073.4,284 1079.3,300 1085.1,306 1091,317 1096.9,317 1102.7,328 1108.6,339 1112.5,350 1119.3,356 1124.2,361 1130.1,361 1134,367 1136,373 1135,373 1141.8,384 1147.7,389 1153.6,400 1159.4,406 1165.3,411 1175.1,411 1179,417 1185.8,417 1190.7,428 1195.6,434 1202.4,434 1208.3,439 1212.2,445 1217.1,445" fill="none" stroke="#ff0080" stroke-width="2" />
<polyline points="152.5,306.5 153.5,306.5 154.5,306.5 155.5,306.5 156.5,306.5 157.5,306.5 158.5,306.5 159.5,306.5 160.5,306.5 161.5,306.5 162.5,306.5 163.5,307 164.5,308.6 165.5,310.2 166.5,311.8 167.5,313.4 168.5,314.9 169.5,316.5 170.5,317.5 171.5,317.5 172.5,317.5 173.5,317.5 174.5,317.5 175.5,317.5 176.5,317.5 177.5,317.5 178.5,317.5 179.5,317.5 180.5,317.5 181.5,317.5 182.5,317.5 183.5,317.5 184.5,317.5 185.5,317.5 186.5,317.5 187.5,317.5 188.5,317.5 189.5,317.5 190.5,317.5 191.5,317.5 192.5,317.5 193.5,317.5 194.5,317.5 195.5,317.5 196.5,317.5 197.5,317.8 198.5,320.8 199.5,323.5 200.5,323.5 201.5,323.5 202.5,323.5 203.5,323.5 204.5,323.5 205.5,323.5 206.5,323.5 207.5,323.5 208.5,323.5 209.5,323.5 210.5,323.5 211.5,323.5 212.5,323.5 213.5,323.5 214.5,323.5 215.5,323.5 216.5,323.5 217.5,323.5 218.5,323.5 219.5,323.5 220.5,323.5 221.5,323.5 222.5,323.9 223.5,323.9 224.5,323.9 225.5,323.9 226.5,323.9 227.5,322.6 228.5,321.4 229.5,320.2 230.5,319 231.5,317.5 232.5,317.5 233.5,317.5 234.5,317.5 235.5,317.5 236.5,317.5 237.5,317.5 238.5,317.5 239.5,317.5 240.5,316.5 241.5,315.5 242.5,314.4 243.5,313.4 244.5,312.4 245.5,311 246.5,309.7 247.5,311.1 248.5,312.8 249.5,314 250.5,315.3 251.5,316.6 252.5,317.5 253.5,317.5 254.5,317.5 255.5,317.5 256.5,317.5 257.5,317.5 258.5,317.5 259.5,317.5 260.5,317.5 261.5,317.5 262.5,317.5 263.5,317.5 264.5,317.5 265.5,317.5 266.5,317.5 267.5,317.5 268.5,317.5 269.5,317.5 270.5,317.5 271.5,317.5 272.5,317.9 273.5,317.9 274.5,317.9 275.5,317.9 276.5,317.9 277.5,316 278.5,314.1 279.5,312.3 280.5,310.4 281.5,308.6 282.5,306.5 283.5,306.5 284.5,306.5 285.5,306.5 286.5,306.5 287.5,306.5 288.5,306.5 289.5,306.5 290.5,306.5 291.5,306.5 292.5,306.5 293.5,306.5 294.5,306.5 295.5,306.5 296.5,306.5 297.5,306.5 298.5,306.5 299.5,306.5 300.5,307.2 301.5,307.2 302.5,307.2 303.5,307.2 304.5,307.2 305.5,305.8 306.5,304.2 307.5,302.8 308.5,300.5 309.5,300.5 310.5,300.5 311.5,300.5 312.5,300.5 313.5,300.5 314.5,300.5 315.5,300.5 316.5,300.5 317.5,300.5 318.5,300.5 319.5,300.5 320.5,300.5 321.5,300.5 322.5,300.5 323.5,300.5 324.5,300.5 325.5,300.5 326.5,300.5 327.5,300.5 328.5,300.5 329.5,300.5 330.5,300.5 331.5,300.5 332.5,300.5 333.5,300.5 334.5,300.5 335.5,300.5 336.5,300.5 337.5,300.5 338.5,300.5 339.5,300.5 340.5,300.5 341.5,300.5 342.5,300.5 343.5,300.5 344.5,300.5 345.5,300.5 346.5,300.5 347.5,300.5 348.5,300.5 349.5,300.5 350.5,299.9 351.5,298.6 352.5,297.3 353.5,295.5 354.5,295.5 355.5,295.5 356.5,295.5 357.5,295.5 358.5,295.5 359.5,295.5 360.5,295.5 361.5,295.5 362.5,295.5 363.5,295.5 364.5,297.1 365.5,298.8 366.5,300.5 367.5,300.5 368.5,300.5 369.5,300.5 370.5,300.6 371.5,301.8 372.5,303.1 373.5,304.3 374.5,305.5 375.5,306.5 376.5,306.5 377.5,306.5 378.5,306.5 379.5,306.5 380.5,306.5 381.5,306.5 382.5,306.9 383.5,308.3 384.5,309.7 385.5,311.2 386.5,312.6 387.5,314 388.5,315.4 389.5,316.8 390.5,317.5 391.5,317.5 392.5,317.5 393.5,317.5 394.5,317.5 395.5,317.5 396.5,317.5 397.5,317.5 398.5,317.5 399.5,317.5 400.5,317.5 401.5,317.5 402.5,317.5 403.5,317.5 404.5,317.5 405.5,317.5 406.5,317.5 407.5,317.5 408.5,317.6 409.5,317.6 410.5,317.6 411.5,317.6 412.5,317.6 413.5,316.6 414.5,315.6 415.5,314.5 416.5,313.5 417.5,312.5 418.5,312.5 419.5,312.5 420.5,312.5 421.5,312.3 422.5,310.4 423.5,308.4 424.5,306.5 425.5,306.5 426.5,306.5 427.5,306.5 428.5,306.5 429.5,306.5 430.5,306.5 431.5,306.2 432.5,304.7 433.5,303.2 434.5,301.7 435.5,300.5 436.5,300.5 437.5,300.5 438.5,300.5 439.5,300.5 440.5,300.5 441.5,300.5 442.5,300.5 443.5,300.5 444.5,299.8 445.5,298.1 446.5,296.1 447.5,296.1 448.5,296.1 449.5,296.1 450.5,294.5 451.5,292.9 452.5,291.4 453.5,289.8 454.5,288.2 455.5,286.6 456.5,285 457.5,283.4 458.5,281.9 459.5,280.3 460.5,278.5 461.5,278.5 462.5,278.5 463.5,278.5 464.5,278.5 465.5,278.5 466.5,278.5 467.5,278.5 468.5,278.5 469.5,277.2 470.5,275.9 471.5,274.7 472.5,273.5 473.5,273.5 474.5,273.5 475.5,273.5 476.5,273.5 477.5,273.5 478.5,273.5 479.5,273.5 480.5,273.5 481.5,273.5 482.5,273.5 483.5,273.5 484.5,273.5 485.5,273.5 486.5,273.5 487.5,272.7 488.5,270.8 489.5,268.9 490.5,267.1 491.5,265.2 492.5,262.5 493.5,262.5 494.5,263.3 495.5,263.3 496.5,263.3 497.5,263.3 498.5,263.3 499.5,260.5 500.5,257.7 501.5,254.9 502.5,251.9 503.5,249.8 504.5,247.8 505.5,245.5 506.5,245.5 507.5,245.5 508.5,245.5 509.5,247.6 510.5,249.6 511.5,251.5 512.5,251.5 513.5,251.5 514.5,251.5 515.5,251.5 516.5,251.5 517.5,251.5 518.5,251.5 519.5,251.5 520.5,251.5 521.5,251.5 522.5,251.5 523.5,251.5 524.5,251.5 525.5,250.5 526.5,247 527.5,243.5 528.5,240.1 529.5,236.6 530.5,234.5 531.5,234.5 532.5,234.5 533.5,234.5 534.5,234.5 535.5,234.5 536.5,234.5 537.5,234.8 538.5,234.8 539.5,234.8 540.5,234.8 541.5,234.8 542.5,233.9 543.5,233 544.5,232.1 545.5,231.2 546.5,230.8 547.5,232.1 548.5,233.3 549.5,234.5 550.5,234.5 551.5,234.5 552.5,234.5 553.5,234.5 554.5,234.5 555.5,234.5 556.5,234.5 557.5,234.5 558.5,234.5 559.5,234.5 560.5,234.5 561.5,234.5 562.5,233.9 563.5,231 564.5,228.2 565.5,225.3 566.5,222.4 567.5,219.5 568.5,215.9 569.5,210.4 570.5,207.9 571.5,208.9 572.5,210 573.5,211 574.5,212.5 575.5,212.5 576.5,212.5 577.5,212.5 578.5,212.5 579.5,212.5 580.5,212.5 581.5,212.5 582.5,212.5 583.5,212.5 584.5,212.5 585.5,212.5 586.5,212.8 587.5,212.8 588.5,212.8 589.5,212.8 590.5,212.8 591.5,211.3 592.5,209.7 593.5,208.2 594.5,207.5 595.5,197.8 596.5,188.2 597.5,178.5 598.5,177.2 599.5,178.2 600.5,180.5 601.5,182.7 602.5,184.7 603.5,185.5 604.5,186.4 605.5,187.3 606.5,188.2 607.5,189 608.5,189.9 609.5,190.5 610.5,190.5 611.5,190.5 612.5,190.5 613.5,190.5 614.5,190.5 615.5,190.5 616.5,190.5 617.5,190.5 618.5,189.7 619.5,187.6 620.5,185.5 621.5,183.5 622.5,181.4 623.5,179.9 624.5,176.4 625.5,173 626.5,169.5 627.5,166 628.5,162.6 629.5,159.1 630.5,156.1 631.5,158.3 632.5,160.5 633.5,162.8 634.5,165 635.5,167.1 636.5,171.1 637.5,175 638.5,179 639.5,183 640.5,186.9 641.5,190.5 642.5,190.5 643.5,190.5 644.5,190.5 645.5,190.5 646.5,190.5 647.5,190.5 648.5,190.5 649.5,190.1 650.5,188.1 651.5,186 652.5,184 653.5,182 654.5,183.6 655.5,185.1 656.5,186.7 657.5,188.2 658.5,190.5 659.5,190.5 660.5,190.5 661.5,190.5 662.5,190.5 663.5,190.5 664.5,190.5 665.5,190.9 666.5,191.5 667.5,192.2 668.5,192.8 669.5,193.4 670.5,194.1 671.5,194.7 672.5,195.2 673.5,196.6 674.5,198 675.5,199.4 676.5,200.9 677.5,202.3 678.5,203.7 679.5,205.1 680.5,206.5 681.5,206.5 682.5,206.5 683.5,206.5 684.5,206.5 685.5,206.5 686.5,206.5 687.5,206.5 688.5,206.5 689.5,206.5 690.5,206.5 691.5,206 692.5,200.8 693.5,195.7 694.5,190.5 695.5,190.5 696.5,191.7 697.5,193.1 698.5,194.5 699.5,196.4 700.5,199.3 701.5,202.2 702.5,205.2 703.5,208.1 704.5,212.5 705.5,212.5 706.5,212.5 707.5,212.5 708.5,212.5 709.5,212.5 710.5,212.5 711.5,213.7 712.5,215.4 713.5,217.1 714.5,218.8 715.5,220.5 716.5,222.2 717.5,223.9 718.5,225.6 719.5,227.3 720.5,229 721.5,230.7 722.5,232.4 723.5,234.1 724.5,235.8 725.5,237.5 726.5,239.5 727.5,239.5 728.5,239.5 729.5,239.5 730.5,239.5 731.5,239.5 732.5,239.5 733.5,239.5 734.5,239.2 735.5,236.1 736.5,233 737.5,229.9 738.5,226.8 739.5,223.7 740.5,220.6 741.5,217.5 742.5,214.4 743.5,212.5 744.5,213.3 745.5,215.2 746.5,217.1 747.5,218.9 748.5,220.8 749.5,224.3 750.5,224.3 751.5,224.3 752.5,224.3 753.5,224.3 754.5,222.3 755.5,222 756.5,223.5 757.5,223.5 758.5,223.5 759.5,223.5 760.5,223.5 761.5,223.5 762.5,224.9 763.5,226.2 764.5,227.6 765.5,229 766.5,230.4 767.5,231.8 768.5,233.1 769.5,234.5 770.5,234.5 771.5,234.5 772.5,234.5 773.5,234.5 774.5,234.5 775.5,234.5 776.5,234.5 777.5,234.5 778.5,234.5 779.5,234.5 780.5,234.5 781.5,234.5 782.5,235.3 783.5,236.4 784.5,237.6 785.5,238.7 786.5,239.5 787.5,239.5 788.5,239.5 789.5,240.1 790.5,240.1 791.5,240.1 792.5,240.1 793.5,240.1 794.5,238.2 795.5,236.3 796.5,234.4 797.5,232.5 798.5,230.6 799.5,228.5 800.5,228.5 801.5,228.5 802.5,228.5 803.5,228.5 804.5,228.5 805.5,228.5 806.5,228.5 807.5,229.2 808.5,229.2 809.5,229.2 810.5,229.2 811.5,229.2 812.5,227.5 813.5,225.7 814.5,225.3 815.5,219.4 816.5,213.5 817.5,207.9 818.5,200.8 819.5,193.6 820.5,186.4 821.5,178.8 822.5,176 823.5,173.1 824.5,170.3 825.5,167.5 826.5,167.5 827.5,167.5 828.5,167.5 829.5,167.5 830.5,167.5 831.5,167.2 832.5,163.9 833.5,160.7 834.5,157.5 835.5,154.2 836.5,151 837.5,147.8 838.5,144.8 839.5,142.6 840.5,140.3 841.5,139.5 842.5,141.6 843.5,143.9 844.5,146.1 845.5,148.4 846.5,150.8 847.5,152.6 848.5,154.5 849.5,156.3 850.5,158.2 851.5,160.1 852.5,161.1 853.5,165.9 854.5,170.7 855.5,175.5 856.5,180.4 857.5,185.2 858.5,190.2 859.5,192.9 860.5,195.7 861.5,198.4 862.5,201.1 863.5,203.8 864.5,206.5 865.5,212 866.5,217.5 867.5,232.2 868.5,245.5 869.5,245.5 870.5,245.5 871.5,245.5 872.5,245.5 873.5,245.5 874.5,245.5 875.5,245.5 876.5,245.5 877.5,244.7 878.5,240.9 879.5,237.2 880.5,233.7 881.5,230.8 882.5,228 883.5,229.8 884.5,231.7 885.5,233.6 886.5,235.8 887.5,238.2 888.5,239.1 889.5,239.1 890.5,239.1 891.5,239.1 892.5,239.1 893.5,238.2 894.5,237.3 895.5,236.9 896.5,238.3 897.5,239.7 898.5,241 899.5,242.4 900.5,243.8 901.5,245.5 902.5,245.5 903.5,245.5 904.5,245.5 905.5,245.5 906.5,245.5 907.5,245.5 908.5,245.5 909.5,245.5 910.5,245.5 911.5,245.5 912.5,245.5 913.5,245.5 914.5,235.8 915.5,226.2 916.5,217.1 917.5,213.3 918.5,209.5 919.5,206.1 920.5,203.8 921.5,201.6 922.5,199.3 923.5,197.1 924.5,193.3 925.5,186.2 926.5,179 927.5,171.8 928.5,166 929.5,162.4 930.5,158.7 931.5,156.5 932.5,157.2 933.5,157.2 934.5,157.2 935.5,157.2 936.5,157.2 937.5,155.4 938.5,153.5 939.5,151.7 940.5,149.8 941.5,147.9 942.5,146.2 943.5,143.9 944.5,141.7 945.5,139.4 946.5,140.1 947.5,144 948.5,147.9 949.5,151.8 950.5,155.8 951.5,159.7 952.5,163.6 953.5,167.5 954.5,168.4 955.5,169.2 956.5,170.1 957.5,170.9 958.5,171.8 959.5,172.6 960.5,173.5 961.5,174.3 962.5,175.2 963.5,176 964.5,176.9 965.5,177.7 966.5,178.6 967.5,179.6 968.5,180.7 969.5,181.7 970.5,182.7 971.5,183.8 972.5,184.5 973.5,184.5 974.5,184.5 975.5,184.5 976.5,184.5 977.5,184.5 978.5,185.1 979.5,186.8 980.5,188.4 981.5,190 982.5,191.6 983.5,193.2 984.5,196.2 985.5,196.2 986.5,196.2 987.5,196.2 988.5,196.2 989.5,194.5 990.5,192.8 991.5,190.5 992.5,194.1 993.5,194.1 994.5,194.1 995.5,194.1 996.5,194.1 997.5,182 998.5,167.9 999.5,165.7 1000.5,163.5 1001.5,161.2 1002.5,159 1003.5,156.7 1004.5,156 1005.5,158.2 1006.5,160.5 1007.5,163.2 1008.5,170.6 1009.5,177.9 1010.5,184.9 1011.5,188.4 1012.5,191.9 1013.5,195.5 1014.5,199 1015.5,203.1 1016.5,208.4 1017.5,213.8 1018.5,219.3 1019.5,225.1 1020.5,231 1021.5,236.8 1022.5,242.4 1023.5,248 1024.5,255.7 1025.5,257.3 1026.5,258.8 1027.5,260.3 1028.5,262.5 1029.5,262.5 1030.5,262.5 1031.5,262.5 1032.5,262.5 1033.5,263.3 1034.5,263.3 1035.5,263.3 1036.5,263.3 1037.5,263.3 1038.5,260.5 1039.5,257.7 1040.5,254.9 1041.5,251.8 1042.5,250.3 1043.5,248.7 1044.5,249.1 1045.5,250.3 1046.5,251.5 1047.5,251.5 1048.5,251.5 1049.5,251.5 1050.5,251.5 1051.5,251.5 1052.5,251.8 1053.5,254.5 1054.5,257.2 1055.5,259.9 1056.5,262.6 1057.5,265.3 1058.5,267.8 1059.5,269.3 1060.5,270.9 1061.5,272.4 1062.5,273.5 1063.5,273.5 1064.5,273.5 1065.5,273.5 1066.5,273.5 1067.5,273.5 1068.5,274.4 1069.5,276.3 1070.5,278.2 1071.5,280 1072.5,281.9 1073.5,283.4 1074.5,286.1 1075.5,288.8 1076.5,291.6 1077.5,294.3 1078.5,297 1079.5,300.2 1080.5,301.2 1081.5,302.3 1082.5,303.3 1083.5,304.3 1084.5,305.4 1085.5,306.3 1086.5,308.2 1087.5,310 1088.5,311.9 1089.5,313.8 1090.5,315.6 1091.5,317.5 1092.5,317.5 1093.5,317.5 1094.5,317.5 1095.5,317.5 1096.5,317.5 1097.5,317.7 1098.5,319.6 1099.5,321.5 1100.5,323.4 1101.5,325.3 1102.5,327.2 1103.5,329.1 1104.5,330.9 1105.5,332.8 1106.5,334.7 1107.5,336.5 1108.5,338.4 1109.5,340.6 1110.5,343.4 1111.5,346.3 1112.5,350.1 1113.5,350.9 1114.5,351.8 1115.5,352.7 1116.5,353.6 1117.5,354.5 1118.5,355.4 1119.5,356.2 1120.5,357.2 1121.5,358.2 1122.5,359.3 1123.5,360.3 1124.5,361.5 1125.5,361.5 1126.5,361.5 1127.5,361.5 1128.5,361.5 1129.5,361.5 1130.5,361.5 1131.5,362.9 1132.5,364.4 1133.5,366 1134.5,367.5 1135.5,373.5 1136.5,373.5 1137.5,375.4 1138.5,377.3 1139.5,379.2 1140.5,381.1 1141.5,383 1142.5,384.7 1143.5,385.5 1144.5,386.4 1145.5,387.2 1146.5,388.1 1147.5,388.9 1148.5,390.1 1149.5,391.9 1150.5,393.8 1151.5,395.7 1152.5,397.5 1153.5,399.4 1154.5,400.9 1155.5,401.9 1156.5,403 1157.5,404 1158.5,405.1 1159.5,406.2 1160.5,407 1161.5,407.9 1162.5,408.7 1163.5,409.6 1164.5,410.4 1165.5,411.5 1166.5,411.5 1167.5,411.5 1168.5,411.5 1169.5,411.5 1170.5,411.5 1171.5,411.5 1172.5,411.5 1173.5,411.5 1174.5,411.5 1175.5,411.5 1176.5,412.9 1177.5,414.4 1178.5,416 1179.5,417.5 1180.5,417.5 1181.5,417.5 1182.5,417.5 1183.5,417.5 1184.5,417.5 1185.5,417.5 1186.5,417.9 1187.5,420.2 1188.5,422.4 1189.5,424.7 1190.5,426.9 1191.5,428.9 1192.5,430.1 1193.5,431.3 1194.5,432.5 1195.5,433.8 1196.5,434.5 1197.5,434.5 1198.5,434.5 1199.5,434.5 1200.5,434.5 1201.5,434.5 1202.5,434.5 1203.5,435 1204.5,435.9 1205.5,436.7 1206.5,437.6 1207.5,438.4 1208.5,439 1209.5,440.6 1210.5,442.1 1211.5,443.7 1212.5,445.5 1213.5,445.5 1214.5,445.5 1215.5,445.5 1216.5,445.5 1217.5,445.5" fill="none" stroke="#ff8040" stroke-width="1" />
<polyline points="152.5,306.5 153.5,306.5 154.5,306.5 155.5,306.5 156.5,306.5 157.5,306.5 158.5,306.5 159.5,306.5 160.5,306.5 161.5,306.5 162.5,306.5 163.5,306.5 164.5,306.5 165.5,306.5 166.5,306.5 167.5,307 168.5,308.6 169.5,310.2 170.5,311.8 171.5,313.4 172.5,314.9 173.5,316.5 174.5,317.5 175.5,317.5 176.5,317.5 177.5,317.5 178.5,317.5 179.5,317.5 180.5,317.5 181.5,317.5 182.5,317.5 183.5,317.5 184.5,317.5 185.5,317.5 186.5,317.5 187.5,317.5 188.5,317.5 189.5,317.5 190.5,317.5 191.5,317.5 192.5,317.5 193.5,317.5 194.5,317.5 195.5,317.5 196.5,317.5 197.5,317.5 198.5,317.5 199.5,317.5 200.5,317.5 201.5,317.8 202.5,320.8 203.5,323.5 204.5,323.5 205.5,323.5 206.5,323.5 207.5,323.5 208.5,323.5 209.5,323.5 210.5,323.5 211.5,323.5 212.5,323.5 213.5,323.5 214.5,323.5 215.5,323.5 216.5,323.5 217.5,323.5 218.5,323.5 219.5,323.5 220.5,323.5 221.5,323.5 222.5,323.5 223.5,322.6 224.5,321.4 225.5,320.2 226.5,319 227.5,317.5 228.5,317.5 229.5,317.5 230.5,317.5 231.5,317.5 232.5,317.5 233.5,317.5 234.5,317.5 235.5,317.5 236.5,316.5 237.5,315.5 238.5,314.4 239.5,313.4 240.5,312.4 241.5,311 242.5,309.7 243.5,308.4 244.5,305.8 245.5,305.8 246.5,305.8 247.5,305.8 248.5,305.8 249.5,307.6 250.5,309.3 251.5,311.1 252.5,312.8 253.5,314 254.5,315.3 255.5,316.6 256.5,317.5 257.5,317.5 258.5,317.5 259.5,317.5 260.5,317.5 261.5,317.5 262.5,317.5 263.5,317.5 264.5,317.5 265.5,317.5 266.5,317.5 267.5,317.5 268.5,317.5 269.5,317.5 270.5,317.5 271.5,317.5 272.5,317.5 273.5,316 274.5,314.1 275.5,312.3 276.5,310.4 277.5,308.6 278.5,306.5 279.5,306.5 280.5,306.5 281.5,306.5 282.5,306.5 283.5,306.5 284.5,306.5 285.5,306.5 286.5,306.5 287.5,306.5 288.5,306.5 289.5,306.5 290.5,306.5 291.5,306.5 292.5,306.5 293.5,306.5 294.5,306.5 295.5,306.5 296.5,306.5 297.5,306.5 298.5,306.5 299.5,306.5 300.5,306.5 301.5,305.8 302.5,304.2 303.5,302.8 304.5,300.5 305.5,300.5 306.5,300.5 307.5,300.5 308.5,300.5 309.5,300.5 310.5,300.5 311.5,300.5 312.5,300.5 313.5,300.5 314.5,300.5 315.5,300.5 316.5,300.5 317.5,300.5 318.5,300.5 319.5,300.5 320.5,300.5 321.5,300.5 322.5,300.5 323.5,300.5 324.5,300.5 325.5,300.5 326.5,300.5 327.5,300.5 328.5,300.5 329.5,300.5 330.5,300.5 331.5,300.5 332.5,300.5 333.5,300.5 334.5,300.5 335.5,300.5 336.5,300.5 337.5,300.5 338.5,300.5 339.5,300.5 340.5,300.5 341.5,300.5 342.5,300.5 343.5,300.5 344.5,300.5 345.5,300.5 346.5,299.9 347.5,298.6 348.5,297.3 349.5,295.5 350.5,295.5 351.5,295.5 352.5,295.5 353.5,295.5 354.5,295.5 355.5,295.5 356.5,295.5 357.5,295.5 358.5,295.5 359.5,295.5 360.5,295.5 361.5,295.5 362.5,295.5 363.5,295.3 364.5,295.3 365.5,295.3 366.5,295.3 367.5,295.3 368.5,297.1 369.5,298.8 370.5,300.5 371.5,300.5 372.5,300.5 373.5,300.5 374.5,300.6 375.5,301.8 376.5,303.1 377.5,304.3 378.5,305.5 379.5,306.5 380.5,306.5 381.5,306.5 382.5,306.5 383.5,306.5 384.5,306.5 385.5,306.5 386.5,306.9 387.5,308.3 388.5,309.7 389.5,311.2 390.5,312.6 391.5,314 392.5,315.4 393.5,316.8 394.5,317.5 395.5,317.5 396.5,317.5 397.5,317.5 398.5,317.5 399.5,317.5 400.5,317.5 401.5,317.5 402.5,317.5 403.5,317.5 404.5,317.5 405.5,317.5 406.5,317.5 407.5,317.5 408.5,317.5 409.5,316.6 410.5,315.6 411.5,314.5 412.5,313.5 413.5,312.5 414.5,312.5 415.5,312.5 416.5,312.5 417.5,312.3 418.5,310.4 419.5,308.4 420.5,306.5 421.5,306.5 422.5,306.5 423.5,306.5 424.5,306.5 425.5,306.5 426.5,306.5 427.5,306.2 428.5,304.7 429.5,303.2 430.5,301.7 431.5,300.5 432.5,300.5 433.5,300.5 434.5,300.5 435.5,300.5 436.5,300.5 437.5,300.5 438.5,300.5 439.5,300.5 440.5,299.8 441.5,298.1 442.5,295.5 443.5,295.5 444.5,295.5 445.5,295.5 446.5,294.5 447.5,292.9 448.5,291.4 449.5,289.8 450.5,288.2 451.5,286.6 452.5,285 453.5,283.4 454.5,281.9 455.5,280.3 456.5,278.5 457.5,278.5 458.5,278.5 459.5,278.5 460.5,278.5 461.5,278.5 462.5,278.5 463.5,278.5 464.5,278.5 465.5,277.2 466.5,275.9 467.5,274.7 468.5,273.5 469.5,273.5 470.5,273.5 471.5,273.5 472.5,273.5 473.5,273.5 474.5,273.5 475.5,273.5 476.5,273.5 477.5,273.5 478.5,273.5 479.5,273.5 480.5,273.5 481.5,273.5 482.5,273.5 483.5,272.7 484.5,270.8 485.5,268.9 486.5,267.1 487.5,265.2 488.5,262.5 489.5,262.5 490.5,262.5 491.5,262.5 492.5,262.5 493.5,262.5 494.5,262.5 495.5,260.5 496.5,257.7 497.5,254.9 498.5,251.9 499.5,249.8 500.5,247.8 501.5,245.5 502.5,245.5 503.5,245.5 504.5,245.5 505.5,245.5 506.5,245.5 507.5,245.5 508.5,245.5 509.5,245.5 510.5,245.5 511.5,245.5 512.5,245.5 513.5,247.6 514.5,249.6 515.5,251.5 516.5,251.5 517.5,251.5 518.5,251.5 519.5,251.5 520.5,251.5 521.5,250.5 522.5,247 523.5,243.5 524.5,240.1 525.5,236.6 526.5,234.5 527.5,234.5 528.5,234.5 529.5,234.5 530.5,234.5 531.5,234.5 532.5,234.5 533.5,234.5 534.5,234.5 535.5,234.5 536.5,234.5 537.5,234.5 538.5,233.9 539.5,233 540.5,232.1 541.5,231.2 542.5,230.4 543.5,229.5 544.5,228.4 545.5,228.4 546.5,228.4 547.5,228.4 548.5,228.4 549.5,229.6 550.5,230.8 551.5,232.1 552.5,233.3 553.5,234.5 554.5,234.5 555.5,234.5 556.5,234.5 557.5,234.5 558.5,233.9 559.5,231 560.5,228.2 561.5,225.3 562.5,222.4 563.5,219.5 564.5,215.9 565.5,210.4 566.5,206.5 567.5,206.5 568.5,206.5 569.5,206.5 570.5,206.5 571.5,206.5 572.5,206.5 573.5,206.9 574.5,207.9 575.5,208.9 576.5,210 577.5,211 578.5,212.5 579.5,212.5 580.5,212.5 581.5,212.5 582.5,212.5 583.5,212.5 584.5,212.5 585.5,212.5 586.5,212.5 587.5,211.3 588.5,209.7 589.5,208.2 590.5,207.5 591.5,197.8 592.5,188.2 593.5,178.5 594.5,177.2 595.5,175.9 596.5,174.7 597.5,173.7 598.5,173.7 599.5,173.7 600.5,173.7 601.5,173.7 602.5,176 603.5,178.2 604.5,180.5 605.5,182.7 606.5,184.7 607.5,185.5 608.5,186.4 609.5,187.3 610.5,188.2 611.5,189 612.5,189.9 613.5,190.5 614.5,189.7 615.5,187.6 616.5,185.5 617.5,183.5 618.5,181.4 619.5,179.9 620.5,176.4 621.5,173 622.5,169.5 623.5,166 624.5,162.6 625.5,159.1 626.5,155.7 627.5,151.2 628.5,151.2 629.5,151.2 630.5,151.2 631.5,151.2 632.5,152.8 633.5,154.5 634.5,156.1 635.5,158.3 636.5,160.5 637.5,162.8 638.5,165 639.5,167.1 640.5,171.1 641.5,175 642.5,179 643.5,183 644.5,186.9 645.5,190.1 646.5,188.1 647.5,186 648.5,184 649.5,182 650.5,179.9 651.5,179 652.5,179 653.5,179 654.5,179 655.5,179 656.5,180.5 657.5,182 658.5,183.6 659.5,185.1 660.5,186.7 661.5,188.2 662.5,190.5 663.5,190.5 664.5,190.2 665.5,190.2 666.5,190.2 667.5,190.2 668.5,190.2 669.5,190.9 670.5,191.5 671.5,192.2 672.5,192.8 673.5,193.4 674.5,194.1 675.5,194.7 676.5,195.2 677.5,196.6 678.5,198 679.5,199.4 680.5,200.9 681.5,202.3 682.5,203.7 683.5,205.1 684.5,206.5 685.5,206.5 686.5,206.5 687.5,206 688.5,200.8 689.5,195.7 690.5,190.5 691.5,190.5 692.5,190.5 693.5,190.5 694.5,190.5 695.5,190.4 696.5,190.4 697.5,190.4 698.5,190.4 699.5,190.4 700.5,191.7 701.5,193.1 702.5,194.5 703.5,196.4 704.5,199.3 705.5,202.2 706.5,205.2 707.5,208.1 708.5,212.5 709.5,212.5 710.5,212 711.5,212 712.5,212 713.5,212 714.5,212 715.5,213.7 716.5,215.4 717.5,217.1 718.5,218.8 719.5,220.5 720.5,222.2 721.5,223.9 722.5,225.6 723.5,227.3 724.5,229 725.5,230.7 726.5,232.4 727.5,234.1 728.5,235.8 729.5,237.5 730.5,239.2 731.5,236.1 732.5,233 733.5,229.9 734.5,226.8 735.5,223.7 736.5,220.6 737.5,217.5 738.5,214.4 739.5,212.5 740.5,212.5 741.5,212.5 742.5,212.5 743.5,212.5 744.5,212.5 745.5,212.5 746.5,212.5 747.5,212.5 748.5,213.3 749.5,215.2 750.5,217.1 751.5,218.9 752.5,217 753.5,217 754.5,217 755.5,217 756.5,217 757.5,218.7 758.5,220.3 759.5,222 760.5,223.5 761.5,223.5 762.5,223.5 763.5,223.5 764.5,223.5 765.5,223.5 766.5,224.9 767.5,226.2 768.5,227.6 769.5,229 770.5,230.4 771.5,231.8 772.5,233.1 773.5,234.5 774.5,234.5 775.5,234.5 776.5,234.5 777.5,234.5 778.5,234.5 779.5,234.5 780.5,234.5 781.5,234.2 782.5,234.2 783.5,234.2 784.5,234.2 785.5,234.2 786.5,235.3 787.5,236.4 788.5,237.6 789.5,238.7 790.5,238.2 791.5,236.3 792.5,234.4 793.5,232.5 794.5,230.6 795.5,228.5 796.5,228.5 797.5,228.5 798.5,228.5 799.5,228.5 800.5,228.5 801.5,228.5 802.5,228.5 803.5,228.5 804.5,228.5 805.5,228.5 806.5,228.5 807.5,228.5 808.5,227.5 809.5,225.7 810.5,225.3 811.5,219.4 812.5,213.5 813.5,207.9 814.5,200.8 815.5,193.6 816.5,186.4 817.5,178.8 818.5,176 819.5,173.1 820.5,170.3 821.5,167.5 822.5,167.5 823.5,167.5 824.5,167.5 825.5,167.5 826.5,167.5 827.5,167.2 828.5,163.9 829.5,160.7 830.5,157.5 831.5,154.2 832.5,151 833.5,147.8 834.5,144.8 835.5,142.6 836.5,140.3 837.5,138.1 838.5,135.8 839.5,135.3 840.5,135.3 841.5,135.3 842.5,135.3 843.5,135.3 844.5,137.4 845.5,139.5 846.5,141.6 847.5,143.9 848.5,146.1 849.5,148.4 850.5,150.8 851.5,152.6 852.5,154.5 853.5,156.3 854.5,158.2 855.5,160.1 856.5,161.1 857.5,165.9 858.5,170.7 859.5,175.5 860.5,180.4 861.5,185.2 862.5,190.2 863.5,192.9 864.5,195.7 865.5,198.4 866.5,201.1 867.5,203.8 868.5,206.5 869.5,212 870.5,217.5 871.5,232.2 872.5,245.5 873.5,244.7 874.5,240.9 875.5,237.2 876.5,233.7 877.5,230.8 878.5,228 879.5,225.2 880.5,224.2 881.5,224.2 882.5,224.2 883.5,224.2 884.5,224.2 885.5,226.1 886.5,228 887.5,229.8 888.5,231.7 889.5,233.6 890.5,235.8 891.5,236.5 892.5,235.6 893.5,234.1 894.5,234.1 895.5,234.1 896.5,234.1 897.5,234.1 898.5,235.5 899.5,236.9 900.5,238.3 901.5,239.7 902.5,241 903.5,242.4 904.5,243.8 905.5,245.5 906.5,245.5 907.5,245.5 908.5,245.5 909.5,245.5 910.5,235.8 911.5,226.2 912.5,217.1 913.5,213.3 914.5,209.5 915.5,206.1 916.5,203.8 917.5,201.6 918.5,199.3 919.5,197.1 920.5,193.3 921.5,186.2 922.5,179 923.5,171.8 924.5,166 925.5,162.4 926.5,158.7 927.5,156.5 928.5,156.5 929.5,156.5 930.5,156.5 931.5,156.5 932.5,156.5 933.5,155.4 934.5,153.5 935.5,151.7 936.5,149.8 937.5,147.9 938.5,146.2 939.5,143.9 940.5,141.7 941.5,139.4 942.5,137.2 943.5,134.1 944.5,134.1 945.5,134.1 946.5,134.1 947.5,134.1 948.5,136.2 949.5,138.2 950.5,140.1 951.5,144 952.5,147.9 953.5,151.8 954.5,155.8 955.5,159.7 956.5,163.6 957.5,167.5 958.5,168.4 959.5,169.2 960.5,170.1 961.5,170.9 962.5,171.8 963.5,172.6 964.5,173.5 965.5,174.3 966.5,175.2 967.5,176 968.5,176.9 969.5,177.7 970.5,178.6 971.5,179.6 972.5,180.7 973.5,181.7 974.5,182.7 975.5,183.8 976.5,184.5 977.5,184.5 978.5,184.5 979.5,184.5 980.5,184.5 981.5,184.5 982.5,185.1 983.5,186.8 984.5,188.4 985.5,190 986.5,191.6 987.5,190.5 988.5,190.5 989.5,190.5 990.5,190.5 991.5,190.5 992.5,190.5 993.5,182 994.5,167.9 995.5,165.7 996.5,163.5 997.5,161.2 998.5,159 999.5,156.7 1000.5,154.9 1001.5,153.2 1002.5,151.5 1003.5,151.5 1004.5,151.5 1005.5,151.5 1006.5,151.5 1007.5,153.7 1008.5,156 1009.5,158.2 1010.5,160.5 1011.5,163.2 1012.5,170.6 1013.5,177.9 1014.5,184.9 1015.5,188.4 1016.5,191.9 1017.5,195.5 1018.5,199 1019.5,203.1 1020.5,208.4 1021.5,213.8 1022.5,219.3 1023.5,225.1 1024.5,231 1025.5,236.8 1026.5,242.4 1027.5,248 1028.5,255.7 1029.5,257.3 1030.5,258.8 1031.5,260.3 1032.5,262.5 1033.5,262.5 1034.5,260.5 1035.5,257.7 1036.5,254.9 1037.5,251.8 1038.5,250.3 1039.5,248.7 1040.5,247.2 1041.5,245.4 1042.5,245.4 1043.5,245.4 1044.5,245.4 1045.5,245.4 1046.5,246.6 1047.5,247.8 1048.5,249.1 1049.5,250.3 1050.5,251.5 1051.5,251.5 1052.5,251.5 1053.5,251.5 1054.5,251.5 1055.5,251.5 1056.5,251.8 1057.5,254.5 1058.5,257.2 1059.5,259.9 1060.5,262.6 1061.5,265.3 1062.5,267.8 1063.5,269.3 1064.5,270.9 1065.5,272.4 1066.5,273.5 1067.5,273.5 1068.5,273.5 1069.5,273.5 1070.5,273.5 1071.5,273.5 1072.5,274.4 1073.5,276.3 1074.5,278.2 1075.5,280 1076.5,281.9 1077.5,283.4 1078.5,286.1 1079.5,288.8 1080.5,291.6 1081.5,294.3 1082.5,297 1083.5,300.2 1084.5,301.2 1085.5,302.3 1086.5,303.3 1087.5,304.3 1088.5,305.4 1089.5,306.3 1090.5,308.2 1091.5,310 1092.5,311.9 1093.5,313.8 1094.5,315.6 1095.5,317.5 1096.5,317.5 1097.5,317.5 1098.5,317.5 1099.5,317.5 1100.5,317.5 1101.5,317.7 1102.5,319.6 1103.5,321.5 1104.5,323.4 1105.5,325.3 1106.5,327.2 1107.5,329.1 1108.5,330.9 1109.5,332.8 1110.5,334.7 1111.5,336.5 1112.5,338.4 1113.5,340.6 1114.5,343.4 1115.5,346.3 1116.5,350.1 1117.5,350.9 1118.5,351.8 1119.5,352.7 1120.5,353.6 1121.5,354.5 1122.5,355.4 1123.5,356.2 1124.5,357.2 1125.5,358.2 1126.5,359.3 1127.5,360.3 1128.5,361.5 1129.5,361.5 1130.5,361.3 1131.5,361.3 1132.5,361.3 1133.5,361.3 1134.5,361.3 1135.5,362.9 1136.5,364.4 1137.5,366 1138.5,367.5 1139.5,373.5 1140.5,373.5 1141.5,375.4 1142.5,377.3 1143.5,379.2 1144.5,381.1 1145.5,383 1146.5,384.7 1147.5,385.5 1148.5,386.4 1149.5,387.2 1150.5,388.1 1151.5,388.9 1152.5,390.1 1153.5,391.9 1154.5,393.8 1155.5,395.7 1156.5,397.5 1157.5,399.4 1158.5,400.9 1159.5,401.9 1160.5,403 1161.5,404 1162.5,405.1 1163.5,406.2 1164.5,407 1165.5,407.9 1166.5,408.7 1167.5,409.6 1168.5,410.4 1169.5,411.5 1170.5,411.5 1171.5,411.5 1172.5,411.5 1173.5,411.5 1174.5,411.5 1175.5,411.3 1176.5,411.3 1177.5,411.3 1178.5,411.3 1179.5,411.3 1180.5,412.9 1181.5,414.4 1182.5,416 1183.5,417.5 1184.5,417.5 1185.5,417.5 1186.5,417.5 1187.5,417.5 1188.5,417.5 1189.5,417.5 1190.5,417.9 1191.5,420.2 1192.5,422.4 1193.5,424.7 1194.5,426.9 1195.5,428.9 1196.5,430.1 1197.5,431.3 1198.5,432.5 1199.5,433.8 1200.5,434.5 1201.5,434.5 1202.5,434.2 1203.5,434.2 1204.5,434.2 1205.5,434.2 1206.5,434.2 1207.5,435 1208.5,435.9 1209.5,436.7 1210.5,437.6 1211.5,438.4 1212.5,439 1213.5,440.6 1214.5,442.1 1215.5,443.7 1216.5,445.5 1217.5,445.5" fill="none" stroke="#ff8000" stroke-width="1" />
<polyline points="152,306.5 162.7,306.5 169.6,317.5 196.9,317.5 198.9,323.5 222.3,323.5 227.2,317.5 235,317.5 239.9,312.5 244.4,306.5 247.8,312.5 251.7,317.5 272.2,317.5 278.1,306.5 300.5,306.5 304.5,300.5 345.5,300.5 349.4,295.5 363.1,295.5 366,300.5 369.9,300.5 374.8,306.5 381.7,306.5 389.5,317.5 408.1,317.5 413,312.5 416.9,312.5 420,306.5 426.8,306.5 430.8,300.5 439.6,300.5 442.5,295.5 445.4,295.5 452.3,284.5 456.2,278.5 464,278.5 467.9,273.5 482.6,273.5 488.4,262.5 494.3,262.5 498.2,251.5 501.1,245.5 508,245.5 510.9,251.5 520.7,251.5 525.6,234.5 537.3,234.5 544.1,228.5 549,234.5 557.8,234.5 563.7,217.5 565.7,206.5 568.6,206.5 574.5,212.5 586.2,212.5 590.1,206.5 593,178.5 596.9,173.5 601.8,184.5 608.7,190.5 613.6,190.5 619.4,178.5 627.2,151.5 630.2,156.5 635.1,167.5 640.9,190.5 644.8,190.5 650.7,178.5 658.5,190.5 664.4,190.5 672.2,195.5 680,206.5 686.9,206.5 690,190.5 690,190.5 695.1,190.5 698.7,195.5 704.5,212.5 710.3,212.5 726.2,239.5 729.9,239.5 738.6,212.5 743.6,212.5 749.4,223.5 752.3,217.5 755.9,223.5 761,223.5 769,234.5 781.3,234.5 785.7,239.5 789.3,239.5 795.1,228.5 807.4,228.5 810.3,223.5 813.2,206.5 817.1,178.5 821,167.5 826.9,167.5 833.7,145.5 838.6,134.5 841.5,140.5 846.4,151.5 852.3,162.5 858.1,190.5 864,206.5 866,217.5 867.9,245.5 872.8,245.5 875.7,234.5 879.6,223.5 885.5,234.5 887.5,239.5 893.3,234.5 901.2,245.5 909,245.5 911.9,217.5 914.8,206.5 919.7,195.5 923.6,167.5 926.6,156.5 932.4,156.5 938.3,145.5 943.2,134.5 946.1,140.5 953,167.5 960,173.5 965.9,178.5 971.7,184.5 977.6,184.5 984.4,195.5 987.4,190.5 992.3,190.5 994.2,167.5 999.1,156.5 1002,151.5 1006.9,162.5 1009.9,184.5 1014.7,201.5 1017.7,217.5 1020.6,234.5 1024.5,256.5 1028.4,262.5 1033.3,262.5 1037.2,251.5 1041.1,245.5 1046,251.5 1051.9,251.5 1057.8,267.5 1061.7,273.5 1067.5,273.5 1073.4,284.5 1079.3,300.5 1085.1,306.5 1091,317.5 1096.9,317.5 1102.7,328.5 1108.6,339.5 1112.5,350.5 1119.3,356.5 1124.2,361.5 1130.1,361.5 1134,367.5 1136,373.5 1135,373.5 1141.8,384.5 1147.7,389.5 1153.6,400.5 1159.4,406.5 1165.3,411.5 1175.1,411.5 1179,417.5 1185.8,417.5 1190.7,428.5 1195.6,434.5 1202.4,434.5 1208.3,439.5 1212.2,445.5 1217.1,445.5" fill="none" stroke="#ff8000" stroke-width="0.6" />
<rect x="152" y="671" width="706" height="1" fill="#00ffff"/>
<polygon points="857,672 858.6,660 860,649 861.4,630 862.6,613 863.2,600 864.2,600 865.6,623 865.6,672" fill="#00ffff"/>
<polyline points="863.4,624 863.4,599.3 873.3,599.3 875.7,573.8 1217,573.8" fill="none" stroke="#00ffff" stroke-width="2"/>
<rect x="874" y="647" width="3" height="25" fill="#00ffff"/>
<rect x="868" y="671" width="1" height="1" fill="#00ffff"/>
<rect x="872" y="671" width="1" height="1" fill="#00ffff"/>
<rect x="876" y="671" width="1" height="1" fill="#00ffff"/>
<rect x="880" y="671" width="1" height="1" fill="#00ffff"/>
<rect x="883" y="671" width="1" height="1" fill="#00ffff"/>
<rect x="887" y="671" width="1" height="1" fill="#00ffff"/>
<rect x="891" y="671" width="1" height="1" fill="#00ffff"/>
<rect x="894" y="671" width="1" height="1" fill="#00ffff"/>
<rect x="898" y="671" width="1" height="1" fill="#00ffff"/>
<rect x="902" y="671" width="1" height="1" fill="#00ffff"/>
<rect x="906" y="671" width="1" height="1" fill="#00ffff"/>
<rect x="909" y="671" width="1" height="1" fill="#00ffff"/>
<rect x="913" y="671" width="1" height="1" fill="#00ffff"/>
<rect x="917" y="671" width="1" height="1" fill="#00ffff"/>
<rect x="920" y="671" width="1" height="1" fill="#00ffff"/>
<rect x="924" y="671" width="1" height="1" fill="#00ffff"/>
<rect x="928" y="671" width="1" height="1" fill="#00ffff"/>
<rect x="932" y="671" width="1" height="1" fill="#00ffff"/>
<rect x="935" y="671" width="1" height="1" fill="#00ffff"/>
<rect x="939" y="671" width="1" height="1" fill="#00ffff"/>
<rect x="943" y="671" width="1" height="1" fill="#00ffff"/>
<rect x="946" y="671" width="1" height="1" fill="#00ffff"/>
<rect x="950" y="671" width="1" height="1" fill="#00ffff"/>
<rect x="954" y="671" width="1" height="1" fill="#00ffff"/>
<rect x="958" y="671" width="1" height="1" fill="#00ffff"/>
<rect x="961" y="671" width="1" height="1" fill="#00ffff"/>
<rect x="965" y="671" width="1" height="1" fill="#00ffff"/>
<rect x="969" y="671" width="1" height="1" fill="#00ffff"/>
<rect x="972" y="671" width="1" height="1" fill="#00ffff"/>
<rect x="976" y="671" width="1" height="1" fill="#00ffff"/>
<rect x="980" y="671" width="1" height="1" fill="#00ffff"/>
<rect x="984" y="671" width="1" height="1" fill="#00ffff"/>
<rect x="987" y="671" width="1" height="1" fill="#00ffff"/>
<rect x="991" y="671" width="1" height="1" fill="#00ffff"/>
<rect x="995" y="671" width="1" height="1" fill="#00ffff"/>
<rect x="998" y="671" width="1" height="1" fill="#00ffff"/>
<rect x="1002" y="671" width="1" height="1" fill="#00ffff"/>
<rect x="1006" y="671" width="1" height="1" fill="#00ffff"/>
<rect x="1010" y="671" width="1" height="1" fill="#00ffff"/>
<rect x="1013" y="671" width="1" height="1" fill="#00ffff"/>
<rect x="1017" y="671" width="1" height="1" fill="#00ffff"/>
<rect x="1021" y="671" width="1" height="1" fill="#00ffff"/>
<rect x="1024" y="671" width="1" height="1" fill="#00ffff"/>
<rect x="1028" y="671" width="1" height="1" fill="#00ffff"/>
<rect x="1032" y="671" width="1" height="1" fill="#00ffff"/>
<rect x="1036" y="671" width="1" height="1" fill="#00ffff"/>
<rect x="1039" y="671" width="1" height="1" fill="#00ffff"/>
<rect x="1043" y="671" width="1" height="1" fill="#00ffff"/>
<rect x="1047" y="671" width="1" height="1" fill="#00ffff"/>
<rect x="1050" y="671" width="1" height="1" fill="#00ffff"/>
<rect x="1054" y="671" width="1" height="1" fill="#00ffff"/>
<rect x="1058" y="671" width="1" height="1" fill="#00ffff"/>
<rect x="1062" y="671" width="1" height="1" fill="#00ffff"/>
<rect x="1065" y="671" width="1" height="1" fill="#00ffff"/>
<rect x="1069" y="671" width="1" height="1" fill="#00ffff"/>
<rect x="1073" y="671" width="1" height="1" fill="#00ffff"/>
<rect x="1076" y="671" width="1" height="1" fill="#00ffff"/>
<rect x="1080" y="671" width="1" height="1" fill="#00ffff"/>
<rect x="1084" y="671" width="1" height="1" fill="#00ffff"/>
<rect x="1088" y="671" width="1" height="1" fill="#00ffff"/>
<rect x="1091" y="671" width="1" height="1" fill="#00ffff"/>
<rect x="1095" y="671" width="1" height="1" fill="#00ffff"/>
<rect x="1099" y="671" width="1" height="1" fill="#00ffff"/>
<rect x="1102" y="671" width="1" height="1" fill="#00ffff"/>
<rect x="1106" y="671" width="1" height="1" fill="#00ffff"/>
<rect x="1110" y="671" width="1" height="1" fill="#00ffff"/>
<rect x="1114" y="671" width="1" height="1" fill="#00ffff"/>
<rect x="1117" y="671" width="1" height="1" fill="#00ffff"/>
<rect x="1121" y="671" width="1" height="1" fill="#00ffff"/>
<rect x="1125" y="671" width="1" height="1" fill="#00ffff"/>
<rect x="1128" y="671" width="1" height="1" fill="#00ffff"/>
<rect x="1132" y="671" width="1" height="1" fill="#00ffff"/>
<rect x="1136" y="671" width="1" height="1" fill="#00ffff"/>
<rect x="1140" y="671" width="1" height="1" fill="#00ffff"/>
<rect x="1143" y="671" width="1" height="1" fill="#00ffff"/>
<rect x="1147" y="671" width="1" height="1" fill="#00ffff"/>
<rect x="1151" y="671" width="1" height="1" fill="#00ffff"/>
<rect x="1154" y="671" width="1" height="1" fill="#00ffff"/>
<rect x="1158" y="671" width="1" height="1" fill="#00ffff"/>
<rect x="1162" y="671" width="1" height="1" fill="#00ffff"/>
<rect x="1166" y="671" width="1" height="1" fill="#00ffff"/>
<rect x="1169" y="671" width="1" height="1" fill="#00ffff"/>
<rect x="1173" y="671" width="1" height="1" fill="#00ffff"/>
<rect x="1177" y="671" width="1" height="1" fill="#00ffff"/>
<rect x="1180" y="671" width="1" height="1" fill="#00ffff"/>
<rect x="1184" y="671" width="1" height="1" fill="#00ffff"/>
<rect x="1188" y="671" width="1" height="1" fill="#00ffff"/>
<rect x="1192" y="671" width="1" height="1" fill="#00ffff"/>
<rect x="1195" y="671" width="1" height="1" fill="#00ffff"/>
<rect x="1199" y="671" width="1" height="1" fill="#00ffff"/>
<rect x="1203" y="671" width="1" height="1" fill="#00ffff"/>
<rect x="1206" y="671" width="1" height="1" fill="#00ffff"/>
<rect x="1210" y="671" width="1" height="1" fill="#00ffff"/>
<rect x="1214" y="671" width="1" height="1" fill="#00ffff"/>
<rect x="1218" y="671" width="1" height="1" fill="#00ffff"/>
<polyline points="152,666.8 155.9,666.8 159.8,668.8 173.5,668.8 177.4,667.8 185.2,666.8 189.1,667.8 214.5,668.8 222.3,669.7 225.3,667.8 228.2,669.7 239.9,670.3 282.9,670.3 286.9,669.7 316.2,669.7 322,670.3 329.9,669.7 345.5,670.7 363.1,669.7 367,667.8 372.9,667.2 376.8,664.9 380.7,663.5 383.6,665.8 388.5,666.4 396.3,664.9 404.2,662.5 407.1,656.1 411,662.9 415.9,660 420,659.4 427.8,660 433.7,657 437.6,658.6 447.4,655.1 453.2,650.2 459.1,644.3 470.8,644.9 474.4,641 478.7,646.3 484.5,649.6 490.4,640.4 493.3,639 497.2,641.4 502.1,631.6 507,628.7 510.9,631.6 515.2,637.5 519.7,630.6 525.6,631.2 531.4,633.6 534.4,636.5 537.3,625.4 540.8,628.7 545.1,618.9 552,613.6 559.8,617 565.7,614.4 570.5,618.3 574.5,618.3 578.4,624.8 586.2,623.8 589.1,618.3 593,621.8 596.9,614 600.8,616 604.8,600.3 608.1,592.9 612.6,600.3 615.5,604.6 619,599.4 623.3,612.1 627.2,621.8 634.1,601.3 638,602.3 640.9,586.3 649.7,585.7 654.6,580.8 660.5,581.2 667.3,591 670.3,587.6 676.1,586.7 681,579.8 686.9,569.1 690,570 693.9,572 696.8,578.8 700.8,569.1 705.6,579.8 709.6,575.9 713.5,570.6 717,574.9 719.3,564.2 724.2,561.2 731.1,559.3 734.6,557.7 737.9,574.9 742.8,575.9 745.7,568.1 753.5,573 758.4,569.1 764.3,568.1 768.2,577.3 771.1,571.4 776,572 779,569.4 782.9,573.9 786.8,573.4 791.7,582.7 795.6,590.2 809.3,586.3 812.2,574.9 816.1,570 821,574.9 823.9,574.9 830.8,563.2 835.7,547.6 838.6,546.6 844.5,560.3 849.3,580.8 855.2,582.7 858.1,587.6 862,601.3 866.9,613 871.8,614 875.7,622.8 882.6,623.8 887.5,612.1 890.4,614 894.3,596 898.2,594.5 901.2,590.6 907,589 912.9,591 916.8,584.7 920.7,588.6 924.6,585.7 932.4,586.7 939.3,587.6 942.2,589.6 946.1,582.7 951,582.4 953.9,579.8 957.8,583.7 960,571 962,566.1 964.9,580.8 969.8,579.8 972.7,580.8 975.6,562.8 979.6,568.1 983.5,574.9 987.4,579.8 991.3,570 994.8,574.9 998.1,555.4 1002,566.1 1006.9,557.3 1011.8,553 1017.1,533.9 1020.6,546.6 1024.5,532.9 1028.4,541.7 1034.3,541.7 1039.2,536.8 1043.1,541.7 1046,534.8 1050.3,548.5 1055.8,544.6 1061.7,539.7 1065.6,556.3 1069.5,555.4 1072.4,564.2 1077.3,570 1082.2,572 1087.1,570 1091.4,576.9 1095.9,577.3 1098.8,572 1102.7,580.8 1106.2,591.5 1110.2,570 1113.5,583.1 1121.3,583.7 1126.2,600.7 1134,601.9 1136.4,606.2 1140.8,600.3 1146.7,599.4 1150.6,606.2 1153.9,600.3 1159.4,609.1 1164.9,618.3 1169.6,605.2 1175.1,616 1180.9,627.7 1184.8,634.6 1187.8,637.9 1191.7,637.9 1195.6,645.3 1202.4,642.4 1206.7,648.2 1210.3,643.4 1217.7,645.9" fill="none" stroke="#000" stroke-width="2" />
</g>
<g class="c">
<rect x="40" y="62" width="1" height="611" fill="#808080" />
<rect x="36" y="62" width="4" height="1" fill="#808080" />
<rect x="36" y="117" width="4" height="1" fill="#808080" />
<rect x="36" y="173" width="4" height="1" fill="#808080" />
<rect x="36" y="228" width="4" height="1" fill="#808080" />
<rect x="36" y="284" width="4" height="1" fill="#808080" />
<rect x="36" y="339" width="4" height="1" fill="#808080" />
<rect x="36" y="395" width="4" height="1" fill="#808080" />
<rect x="36" y="450" width="4" height="1" fill="#808080" />
<rect x="36" y="506" width="4" height="1" fill="#808080" />
<rect x="36" y="561" width="4" height="1" fill="#808080" />
<rect x="36" y="617" width="4" height="1" fill="#808080" />
<rect x="36" y="672" width="4" height="1" fill="#808080" />
<rect x="36" y="62" width="9" height="1" fill="#808080" />
<rect x="36" y="672" width="9" height="1" fill="#808080" />
<rect x="77" y="62" width="1" height="611" fill="#808080" />
<rect x="73" y="62" width="4" height="1" fill="#808080" />
<rect x="73" y="164" width="4" height="1" fill="#808080" />
<rect x="73" y="265" width="4" height="1" fill="#808080" />
<rect x="73" y="367" width="4" height="1" fill="#808080" />
<rect x="73" y="469" width="4" height="1" fill="#808080" />
<rect x="73" y="570" width="4" height="1" fill="#808080" />
<rect x="73" y="672" width="4" height="1" fill="#808080" />
<rect x="73" y="62" width="9" height="1" fill="#808080" />
<rect x="73" y="672" width="9" height="1" fill="#808080" />
<rect x="115" y="62" width="1" height="611" fill="#808080" />
<rect x="111" y="62" width="4" height="1" fill="#808080" />
<rect x="111" y="86" width="4" height="1" fill="#808080" />
<rect x="111" y="99" width="4" height="1" fill="#808080" />
<rect x="111" y="123" width="4" height="1" fill="#808080" />
<rect x="111" y="147" width="4" height="1" fill="#808080" />
<rect x="111" y="160" width="4" height="1" fill="#808080" />
<rect x="111" y="184" width="4" height="1" fill="#808080" />
<rect x="111" y="208" width="4" height="1" fill="#808080" />
<rect x="111" y="221" width="4" height="1" fill="#808080" />
<rect x="111" y="245" width="4" height="1" fill="#808080" />
<rect x="111" y="269" width="4" height="1" fill="#808080" />
<rect x="111" y="282" width="4" height="1" fill="#808080" />
<rect x="111" y="306" width="4" height="1" fill="#808080" />
<rect x="111" y="330" width="4" height="1" fill="#808080" />
<rect x="111" y="343" width="4" height="1" fill="#808080" />
<rect x="111" y="367" width="4" height="1" fill="#808080" />
<rect x="111" y="391" width="4" height="1" fill="#808080" />
<rect x="111" y="404" width="4" height="1" fill="#808080" />
<rect x="111" y="428" width="4" height="1" fill="#808080" />
<rect x="111" y="452" width="4" height="1" fill="#808080" />
<rect x="111" y="465" width="4" height="1" fill="#808080" />
<rect x="111" y="489" width="4" height="1" fill="#808080" />
<rect x="111" y="513" width="4" height="1" fill="#808080" />
<rect x="111" y="526" width="4" height="1" fill="#808080" />
<rect x="111" y="550" width="4" height="1" fill="#808080" />
<rect x="111" y="574" width="4" height="1" fill="#808080" />
<rect x="111" y="587" width="4" height="1" fill="#808080" />
<rect x="111" y="611" width="4" height="1" fill="#808080" />
<rect x="111" y="635" width="4" height="1" fill="#808080" />
<rect x="111" y="648" width="4" height="1" fill="#808080" />
<rect x="111" y="672" width="4" height="1" fill="#808080" />
<rect x="111" y="62" width="9" height="1" fill="#808080" />
<rect x="111" y="672" width="9" height="1" fill="#808080" />
<rect x="146" y="672" width="4" height="1" fill="#808080" />
<rect x="146" y="611" width="4" height="1" fill="#808080" />
<rect x="146" y="550" width="4" height="1" fill="#808080" />
<rect x="146" y="489" width="4" height="1" fill="#808080" />
<rect x="146" y="428" width="4" height="1" fill="#808080" />
<rect x="146" y="367" width="4" height="1" fill="#808080" />
<rect x="146" y="306" width="4" height="1" fill="#808080" />
<rect x="146" y="245" width="4" height="1" fill="#808080" />
<rect x="146" y="184" width="4" height="1" fill="#808080" />
<rect x="146" y="123" width="4" height="1" fill="#808080" />
<rect x="146" y="62" width="4" height="1" fill="#808080" />
<rect x="1222" y="672" width="4" height="1" fill="#808080" />
<rect x="1222" y="611" width="4" height="1" fill="#808080" />
<rect x="1222" y="550" width="4" height="1" fill="#808080" />
<rect x="1222" y="489" width="4" height="1" fill="#808080" />
<rect x="1222" y="428" width="4" height="1" fill="#808080" />
<rect x="1222" y="367" width="4" height="1" fill="#808080" />
<rect x="1222" y="306" width="4" height="1" fill="#808080" />
<rect x="1222" y="245" width="4" height="1" fill="#808080" />
<rect x="1222" y="184" width="4" height="1" fill="#808080" />
<rect x="1222" y="123" width="4" height="1" fill="#808080" />
<rect x="1222" y="62" width="4" height="1" fill="#808080" />
<rect x="1258" y="62" width="1" height="611" fill="#808080" />
<rect x="1259" y="672" width="4" height="1" fill="#808080" />
<rect x="1259" y="648" width="4" height="1" fill="#808080" />
<rect x="1259" y="623" width="4" height="1" fill="#808080" />
<rect x="1259" y="599" width="4" height="1" fill="#808080" />
<rect x="1259" y="574" width="4" height="1" fill="#808080" />
<rect x="1259" y="550" width="4" height="1" fill="#808080" />
<rect x="1259" y="526" width="4" height="1" fill="#808080" />
<rect x="1259" y="501" width="4" height="1" fill="#808080" />
<rect x="1259" y="477" width="4" height="1" fill="#808080" />
<rect x="1259" y="452" width="4" height="1" fill="#808080" />
<rect x="1259" y="428" width="4" height="1" fill="#808080" />
<rect x="1259" y="404" width="4" height="1" fill="#808080" />
<rect x="1259" y="379" width="4" height="1" fill="#808080" />
<rect x="1259" y="355" width="4" height="1" fill="#808080" />
<rect x="1259" y="330" width="4" height="1" fill="#808080" />
<rect x="1259" y="306" width="4" height="1" fill="#808080" />
<rect x="1259" y="282" width="4" height="1" fill="#808080" />
<rect x="1259" y="257" width="4" height="1" fill="#808080" />
<rect x="1259" y="233" width="4" height="1" fill="#808080" />
<rect x="1259" y="208" width="4" height="1" fill="#808080" />
<rect x="1259" y="184" width="4" height="1" fill="#808080" />
<rect x="1259" y="160" width="4" height="1" fill="#808080" />
<rect x="1259" y="135" width="4" height="1" fill="#808080" />
<rect x="1259" y="111" width="4" height="1" fill="#808080" />
<rect x="1259" y="86" width="4" height="1" fill="#808080" />
<rect x="1254" y="86" width="9" height="1" fill="#808080" />
<rect x="1254" y="672" width="9" height="1" fill="#808080" />
<rect x="1295" y="62" width="1" height="611" fill="#808080" />
<rect x="1296" y="672" width="4" height="1" fill="#808080" />
<rect x="1296" y="621" width="4" height="1" fill="#808080" />
<rect x="1296" y="570" width="4" height="1" fill="#808080" />
<rect x="1296" y="520" width="4" height="1" fill="#808080" />
<rect x="1296" y="469" width="4" height="1" fill="#808080" />
<rect x="1296" y="418" width="4" height="1" fill="#808080" />
<rect x="1296" y="367" width="4" height="1" fill="#808080" />
<rect x="1296" y="316" width="4" height="1" fill="#808080" />
<rect x="1296" y="265" width="4" height="1" fill="#808080" />
<rect x="1296" y="215" width="4" height="1" fill="#808080" />
<rect x="1296" y="164" width="4" height="1" fill="#808080" />
<rect x="1296" y="113" width="4" height="1" fill="#808080" />
<rect x="1296" y="62" width="4" height="1" fill="#808080" />
<rect x="1291" y="62" width="9" height="1" fill="#808080" />
<rect x="1291" y="672" width="9" height="1" fill="#808080" />
<rect x="1332" y="62" width="1" height="611" fill="#808080" />
<rect x="1333" y="672" width="4" height="1" fill="#808080" />
<rect x="1333" y="611" width="4" height="1" fill="#808080" />
<rect x="1333" y="550" width="4" height="1" fill="#808080" />
<rect x="1333" y="489" width="4" height="1" fill="#808080" />
<rect x="1333" y="428" width="4" height="1" fill="#808080" />
<rect x="1333" y="367" width="4" height="1" fill="#808080" />
<rect x="1333" y="306" width="4" height="1" fill="#808080" />
<rect x="1333" y="245" width="4" height="1" fill="#808080" />
<rect x="1333" y="184" width="4" height="1" fill="#808080" />
<rect x="1333" y="123" width="4" height="1" fill="#808080" />
<rect x="1333" y="62" width="4" height="1" fill="#808080" />
<rect x="1328" y="62" width="9" height="1" fill="#808080" />
<rect x="1328" y="672" width="9" height="1" fill="#808080" />
<rect x="151" y="673" width="1" height="4" fill="#808080" />
<rect x="196" y="673" width="1" height="4" fill="#808080" />
<rect x="240" y="673" width="1" height="4" fill="#808080" />
<rect x="285" y="673" width="1" height="4" fill="#808080" />
<rect x="329" y="673" width="1" height="4" fill="#808080" />
<rect x="374" y="673" width="1" height="4" fill="#808080" />
<rect x="419" y="673" width="1" height="4" fill="#808080" />
<rect x="463" y="673" width="1" height="4" fill="#808080" />
<rect x="508" y="673" width="1" height="4" fill="#808080" />
<rect x="552" y="673" width="1" height="4" fill="#808080" />
<rect x="597" y="673" width="1" height="4" fill="#808080" />
<rect x="641" y="673" width="1" height="4" fill="#808080" />
<rect x="686" y="673" width="1" height="4" fill="#808080" />
<rect x="731" y="673" width="1" height="4" fill="#808080" />
<rect x="775" y="673" width="1" height="4" fill="#808080" />
<rect x="820" y="673" width="1" height="4" fill="#808080" />
<rect x="864" y="673" width="1" height="4" fill="#808080" />
<rect x="909" y="673" width="1" height="4" fill="#808080" />
<rect x="953" y="673" width="1" height="4" fill="#808080" />
<rect x="998" y="673" width="1" height="4" fill="#808080" />
<rect x="1043" y="673" width="1" height="4" fill="#808080" />
<rect x="1087" y="673" width="1" height="4" fill="#808080" />
<rect x="1132" y="673" width="1" height="4" fill="#808080" />
<rect x="1176" y="673" width="1" height="4" fill="#808080" />
<rect x="1221" y="673" width="1" height="4" fill="#808080" />
</g>
<text x="20.5" y="51" fill="#ff0080" text-anchor="start" font-size="11" >°C</text>
<text x="47" y="51" fill="#00ff00" text-anchor="start" font-size="11" >hPa</text>
<text x="78.5" y="51" fill="#000" text-anchor="start" font-size="11" >km/h</text>
<text x="125" y="51" fill="#ffff00" text-anchor="start" font-size="11" >min</text>
<text x="1222" y="51" fill="#800080" text-anchor="start" font-size="11" >%</text>
<text x="1258" y="51" fill="#00ffff" text-anchor="start" font-size="11" >l/m²</text>
<text x="1296" y="48" fill="#808080" text-anchor="start" font-size="9" >°</text>
<text x="1332" y="51" fill="#dcb000" text-anchor="start" font-size="11" >W/m²</text>
<text x="34.5" y="66.7" fill="#ff0080" text-anchor="end" font-size="11" >20.0</text>
<text x="34.5" y="121.7" fill="#ff0080" text-anchor="end" font-size="11" >19.0</text>
<text x="34.5" y="177.7" fill="#ff0080" text-anchor="end" font-size="11" >18.0</text>
<text x="34.5" y="232.7" fill="#ff0080" text-anchor="end" font-size="11" >17.0</text>
<text x="34.5" y="288.7" fill="#ff0080" text-anchor="end" font-size="11" >16.0</text>
<text x="34.5" y="343.7" fill="#ff0080" text-anchor="end" font-size="11" >15.0</text>
<text x="34.5" y="399.7" fill="#ff0080" text-anchor="end" font-size="11" >14.0</text>
<text x="34.5" y="454.7" fill="#ff0080" text-anchor="end" font-size="11" >13.0</text>
<text x="34.5" y="510.7" fill="#ff0080" text-anchor="end" font-size="11" >12.0</text>
<text x="34.5" y="565.7" fill="#ff0080" text-anchor="end" font-size="11" >11.0</text>
<text x="34.5" y="621.7" fill="#ff0080" text-anchor="end" font-size="11" >10.0</text>
<text x="34.5" y="676.7" fill="#ff0080" text-anchor="end" font-size="11" >9.0</text>
<text x="71" y="66.7" fill="#00ff00" text-anchor="end" font-size="11" >1019</text>
<text x="71" y="168.7" fill="#00ff00" text-anchor="end" font-size="11" >1018</text>
<text x="71" y="269.7" fill="#00ff00" text-anchor="end" font-size="11" >1017</text>
<text x="71" y="371.7" fill="#00ff00" text-anchor="end" font-size="11" >1016</text>
<text x="71" y="473.7" fill="#00ff00" text-anchor="end" font-size="11" >1015</text>
<text x="71" y="574.7" fill="#00ff00" text-anchor="end" font-size="11" >1014</text>
<text x="71" y="676.7" fill="#00ff00" text-anchor="end" font-size="11" >1013</text>
<text x="108" y="66.7" fill="#000" text-anchor="end" font-size="11" >50.0</text>
<text x="108" y="90.7" fill="#000" text-anchor="end" font-size="11" >48.0</text>
<text x="108" y="103.7" fill="#000" text-anchor="end" font-size="11" >47.0</text>
<text x="108" y="127.7" fill="#000" text-anchor="end" font-size="11" >45.0</text>
<text x="108" y="151.7" fill="#000" text-anchor="end" font-size="11" >43.0</text>
<text x="108" y="164.7" fill="#000" text-anchor="end" font-size="11" >42.0</text>
<text x="108" y="188.7" fill="#000" text-anchor="end" font-size="11" >40.0</text>
<text x="108" y="212.7" fill="#000" text-anchor="end" font-size="11" >38.0</text>
<text x="108" y="225.7" fill="#000" text-anchor="end" font-size="11" >37.0</text>
<text x="108" y="249.7" fill="#000" text-anchor="end" font-size="11" >35.0</text>
<text x="108" y="273.7" fill="#000" text-anchor="end" font-size="11" >33.0</text>
<text x="108" y="286.7" fill="#000" text-anchor="end" font-size="11" >32.0</text>
<text x="108" y="310.7" fill="#000" text-anchor="end" font-size="11" >30.0</text>
<text x="108" y="334.7" fill="#000" text-anchor="end" font-size="11" >28.0</text>
<text x="108" y="347.7" fill="#000" text-anchor="end" font-size="11" >27.0</text>
<text x="108" y="371.7" fill="#000" text-anchor="end" font-size="11" >25.0</text>
<text x="108" y="395.7" fill="#000" text-anchor="end" font-size="11" >23.0</text>
<text x="108" y="408.7" fill="#000" text-anchor="end" font-size="11" >22.0</text>
<text x="108" y="432.7" fill="#000" text-anchor="end" font-size="11" >20.0</text>
<text x="108" y="456.7" fill="#000" text-anchor="end" font-size="11" >18.0</text>
<text x="108" y="469.7" fill="#000" text-anchor="end" font-size="11" >17.0</text>
<text x="108" y="493.7" fill="#000" text-anchor="end" font-size="11" >15.0</text>
<text x="108" y="517.7" fill="#000" text-anchor="end" font-size="11" >13.0</text>
<text x="108" y="530.7" fill="#000" text-anchor="end" font-size="11" >12.0</text>
<text x="108" y="554.7" fill="#000" text-anchor="end" font-size="11" >10.0</text>
<text x="108" y="578.7" fill="#000" text-anchor="end" font-size="11" >8.0</text>
<text x="108" y="591.7" fill="#000" text-anchor="end" font-size="11" >7.0</text>
<text x="108" y="615.7" fill="#000" text-anchor="end" font-size="11" >5.0</text>
<text x="108" y="639.7" fill="#000" text-anchor="end" font-size="11" >3.0</text>
<text x="108" y="652.7" fill="#000" text-anchor="end" font-size="11" >2.0</text>
<text x="108" y="676.7" fill="#000" text-anchor="end" font-size="11" >0.0</text>
<text x="145" y="676.7" fill="#ffff00" text-anchor="end" font-size="11" >0</text>
<text x="145" y="615.7" fill="#ffff00" text-anchor="end" font-size="11" >10</text>
<text x="145" y="554.7" fill="#ffff00" text-anchor="end" font-size="11" >20</text>
<text x="145" y="493.7" fill="#ffff00" text-anchor="end" font-size="11" >30</text>
<text x="145" y="432.7" fill="#ffff00" text-anchor="end" font-size="11" >40</text>
<text x="145" y="371.7" fill="#ffff00" text-anchor="end" font-size="11" >50</text>
<text x="145" y="310.7" fill="#ffff00" text-anchor="end" font-size="11" >60</text>
<text x="145" y="249.7" fill="#ffff00" text-anchor="end" font-size="11" >70</text>
<text x="145" y="188.7" fill="#ffff00" text-anchor="end" font-size="11" >80</text>
<text x="145" y="127.7" fill="#ffff00" text-anchor="end" font-size="11" >90</text>
<text x="145" y="66.7" fill="#ffff00" text-anchor="end" font-size="11" >100</text>
<text x="1227.5" y="676.7" fill="#800080" text-anchor="start" font-size="11" >0</text>
<text x="1227.5" y="615.7" fill="#800080" text-anchor="start" font-size="11" >10</text>
<text x="1227.5" y="554.7" fill="#800080" text-anchor="start" font-size="11" >20</text>
<text x="1227.5" y="493.7" fill="#800080" text-anchor="start" font-size="11" >30</text>
<text x="1227.5" y="432.7" fill="#800080" text-anchor="start" font-size="11" >40</text>
<text x="1227.5" y="371.7" fill="#800080" text-anchor="start" font-size="11" >50</text>
<text x="1227.5" y="310.7" fill="#800080" text-anchor="start" font-size="11" >60</text>
<text x="1227.5" y="249.7" fill="#800080" text-anchor="start" font-size="11" >70</text>
<text x="1227.5" y="188.7" fill="#800080" text-anchor="start" font-size="11" >80</text>
<text x="1227.5" y="127.7" fill="#800080" text-anchor="start" font-size="11" >90</text>
<text x="1227.5" y="66.7" fill="#800080" text-anchor="start" font-size="11" >100</text>
<text x="1265" y="676.7" fill="#00ffff" text-anchor="start" font-size="11" >0.0</text>
<text x="1265" y="652.7" fill="#00ffff" text-anchor="start" font-size="11" >0.2</text>
<text x="1265" y="627.7" fill="#00ffff" text-anchor="start" font-size="11" >0.4</text>
<text x="1265" y="603.7" fill="#00ffff" text-anchor="start" font-size="11" >0.6</text>
<text x="1265" y="578.7" fill="#00ffff" text-anchor="start" font-size="11" >0.8</text>
<text x="1265" y="554.7" fill="#00ffff" text-anchor="start" font-size="11" >1.0</text>
<text x="1265" y="530.7" fill="#00ffff" text-anchor="start" font-size="11" >1.2</text>
<text x="1265" y="505.7" fill="#00ffff" text-anchor="start" font-size="11" >1.4</text>
<text x="1265" y="481.7" fill="#00ffff" text-anchor="start" font-size="11" >1.6</text>
<text x="1265" y="456.7" fill="#00ffff" text-anchor="start" font-size="11" >1.8</text>
<text x="1265" y="432.7" fill="#00ffff" text-anchor="start" font-size="11" >2.0</text>
<text x="1265" y="408.7" fill="#00ffff" text-anchor="start" font-size="11" >2.2</text>
<text x="1265" y="383.7" fill="#00ffff" text-anchor="start" font-size="11" >2.4</text>
<text x="1265" y="359.7" fill="#00ffff" text-anchor="start" font-size="11" >2.6</text>
<text x="1265" y="334.7" fill="#00ffff" text-anchor="start" font-size="11" >2.8</text>
<text x="1265" y="310.7" fill="#00ffff" text-anchor="start" font-size="11" >3.0</text>
<text x="1265" y="286.7" fill="#00ffff" text-anchor="start" font-size="11" >3.2</text>
<text x="1265" y="261.7" fill="#00ffff" text-anchor="start" font-size="11" >3.4</text>
<text x="1265" y="237.7" fill="#00ffff" text-anchor="start" font-size="11" >3.6</text>
<text x="1265" y="212.7" fill="#00ffff" text-anchor="start" font-size="11" >3.8</text>
<text x="1265" y="188.7" fill="#00ffff" text-anchor="start" font-size="11" >4.0</text>
<text x="1265" y="164.7" fill="#00ffff" text-anchor="start" font-size="11" >4.2</text>
<text x="1265" y="139.7" fill="#00ffff" text-anchor="start" font-size="11" >4.4</text>
<text x="1265" y="115.7" fill="#00ffff" text-anchor="start" font-size="11" >4.6</text>
<text x="1265" y="90.7" fill="#00ffff" text-anchor="start" font-size="11" >4.8</text>
<text x="1301.5" y="676.7" fill="#808080" text-anchor="start" font-size="11" >0    N</text>
<text x="1301.5" y="625.7" fill="#808080" text-anchor="start" font-size="11" >30</text>
<text x="1301.5" y="574.7" fill="#808080" text-anchor="start" font-size="11" >60</text>
<text x="1301.5" y="524.7" fill="#808080" text-anchor="start" font-size="11" >90  O</text>
<text x="1301.5" y="473.7" fill="#808080" text-anchor="start" font-size="11" >120</text>
<text x="1301.5" y="422.7" fill="#808080" text-anchor="start" font-size="11" >150</text>
<text x="1301.5" y="371.7" fill="#808080" text-anchor="start" font-size="11" >180 S</text>
<text x="1301.5" y="320.7" fill="#808080" text-anchor="start" font-size="11" >210</text>
<text x="1301.5" y="269.7" fill="#808080" text-anchor="start" font-size="11" >240</text>
<text x="1301.5" y="219.7" fill="#808080" text-anchor="start" font-size="11" >270 W</text>
<text x="1301.5" y="168.7" fill="#808080" text-anchor="start" font-size="11" >300</text>
<text x="1301.5" y="117.7" fill="#808080" text-anchor="start" font-size="11" >330</text>
<text x="1301.5" y="66.7" fill="#808080" text-anchor="start" font-size="11" >360 N</text>
<text x="1338.5" y="676.7" fill="#dcb000" text-anchor="start" font-size="11" >0</text>
<text x="1338.5" y="615.7" fill="#dcb000" text-anchor="start" font-size="11" >100</text>
<text x="1338.5" y="554.7" fill="#dcb000" text-anchor="start" font-size="11" >200</text>
<text x="1338.5" y="493.7" fill="#dcb000" text-anchor="start" font-size="11" >300</text>
<text x="1338.5" y="432.7" fill="#dcb000" text-anchor="start" font-size="11" >400</text>
<text x="1338.5" y="371.7" fill="#dcb000" text-anchor="start" font-size="11" >500</text>
<text x="1338.5" y="310.7" fill="#dcb000" text-anchor="start" font-size="11" >600</text>
<text x="1338.5" y="249.7" fill="#dcb000" text-anchor="start" font-size="11" >700</text>
<text x="1338.5" y="188.7" fill="#dcb000" text-anchor="start" font-size="11" >800</text>
<text x="1338.5" y="127.7" fill="#dcb000" text-anchor="start" font-size="11" >900</text>
<text x="1338.5" y="66.7" fill="#dcb000" text-anchor="start" font-size="11" >1000</text>
<text x="151.5" y="691" fill="#000" text-anchor="middle" font-size="11" >00:00</text>
<text x="196.5" y="691" fill="#000" text-anchor="middle" font-size="11" >01:00</text>
<text x="240.5" y="691" fill="#000" text-anchor="middle" font-size="11" >02:00</text>
<text x="285.5" y="691" fill="#000" text-anchor="middle" font-size="11" >03:00</text>
<text x="329.5" y="691" fill="#000" text-anchor="middle" font-size="11" >04:00</text>
<text x="374.5" y="691" fill="#000" text-anchor="middle" font-size="11" >05:00</text>
<text x="419.5" y="691" fill="#000" text-anchor="middle" font-size="11" >06:00</text>
<text x="463.5" y="691" fill="#000" text-anchor="middle" font-size="11" >07:00</text>
<text x="508.5" y="691" fill="#000" text-anchor="middle" font-size="11" >08:00</text>
<text x="552.5" y="691" fill="#000" text-anchor="middle" font-size="11" >09:00</text>
<text x="597.5" y="691" fill="#000" text-anchor="middle" font-size="11" >10:00</text>
<text x="641.5" y="691" fill="#000" text-anchor="middle" font-size="11" >11:00</text>
<text x="686.5" y="691" fill="#000" text-anchor="middle" font-size="11" >12:00</text>
<text x="731.5" y="691" fill="#000" text-anchor="middle" font-size="11" >13:00</text>
<text x="775.5" y="691" fill="#000" text-anchor="middle" font-size="11" >14:00</text>
<text x="820.5" y="691" fill="#000" text-anchor="middle" font-size="11" >15:00</text>
<text x="864.5" y="691" fill="#000" text-anchor="middle" font-size="11" >16:00</text>
<text x="909.5" y="691" fill="#000" text-anchor="middle" font-size="11" >17:00</text>
<text x="953.5" y="691" fill="#000" text-anchor="middle" font-size="11" >18:00</text>
<text x="998.5" y="691" fill="#000" text-anchor="middle" font-size="11" >19:00</text>
<text x="1043.5" y="691" fill="#000" text-anchor="middle" font-size="11" >20:00</text>
<text x="1087.5" y="691" fill="#000" text-anchor="middle" font-size="11" >21:00</text>
<text x="1132.5" y="691" fill="#000" text-anchor="middle" font-size="11" >22:00</text>
<text x="1176.5" y="691" fill="#000" text-anchor="middle" font-size="11" >23:00</text>
<text x="1221.5" y="691" fill="#000" text-anchor="middle" font-size="11" >24:00</text>
<g class="c">
<rect x="388" y="668" width="2" height="13" fill="#ffff00" />
<rect x="451" y="668" width="2" height="13" fill="#808080" />
<rect x="1121" y="668" width="2" height="13" fill="#ffff00" />
<rect x="1134" y="668" width="2" height="13" fill="#808080" />
</g>
<text x="10" y="702" fill="#000" text-anchor="start" font-size="11" >16:26</text>
<path d="M40 702 A4.5 5 0 0 1 49 702 Z" fill="#ffff00"/>
<text x="356" y="702" fill="#000" text-anchor="start" font-size="11" >05:20</text>
<g stroke="#ffff00" stroke-width="1"><circle cx="389.5" cy="698" r="3.2" fill="#ffff00" stroke="none"/><path d="M389.5 692v12M383.5 698h12M385.3 693.8l8.4 8.4M393.7 693.8l-8.4 8.4" fill="none" stroke-opacity="0.55"/></g>
<rect class="c" x="447.5" y="692.5" width="5" height="5" fill="none" stroke="#4040c0" stroke-dasharray="1 1"/>
<path d="M454.5 693l3.5 5h-2.2v5h-2.6v-5h-2.2z" fill="#ffe000" stroke="#806000" stroke-width="0.4"/>
<text x="459" y="702" fill="#000" text-anchor="start" font-size="11" >06:44</text>
<text x="1089" y="702" fill="#000" text-anchor="start" font-size="11" >21:47</text>
<rect class="c" x="1119.5" y="695.5" width="5" height="5" fill="none" stroke="#ffff00"/>
<path d="M1133.5 701l3.5-5h-2.2v-4h-2.6v4h-2.2z" fill="#ffe000" stroke="#806000" stroke-width="0.4"/>
<rect class="c" x="1136.5" y="698.5" width="5" height="4" fill="none" stroke="#4040c0" stroke-dasharray="1 1"/>
<text x="1142.5" y="702" fill="#000" text-anchor="start" font-size="11" >22:04</text>
<g class="c">
<rect x="1" y="704" width="1372" height="90" fill="#ccfaf6" />
<rect x="88" y="704" width="1" height="89" fill="#8c8c8c" />
<rect x="87" y="704" width="1" height="89" fill="#f0ffff" />
<rect x="86" y="792" width="2" height="1" fill="#8c8c8c" />
<rect x="205" y="704" width="1" height="89" fill="#8c8c8c" />
<rect x="204" y="704" width="1" height="89" fill="#f0ffff" />
<rect x="203" y="792" width="2" height="1" fill="#8c8c8c" />
<rect x="323" y="704" width="1" height="89" fill="#8c8c8c" />
<rect x="322" y="704" width="1" height="89" fill="#f0ffff" />
<rect x="321" y="792" width="2" height="1" fill="#8c8c8c" />
<rect x="441" y="704" width="1" height="89" fill="#8c8c8c" />
<rect x="440" y="704" width="1" height="89" fill="#f0ffff" />
<rect x="439" y="792" width="2" height="1" fill="#8c8c8c" />
<rect x="559" y="704" width="1" height="89" fill="#8c8c8c" />
<rect x="558" y="704" width="1" height="89" fill="#f0ffff" />
<rect x="557" y="792" width="2" height="1" fill="#8c8c8c" />
<rect x="677" y="704" width="1" height="89" fill="#8c8c8c" />
<rect x="676" y="704" width="1" height="89" fill="#f0ffff" />
<rect x="675" y="792" width="2" height="1" fill="#8c8c8c" />
<rect x="795" y="704" width="1" height="89" fill="#8c8c8c" />
<rect x="794" y="704" width="1" height="89" fill="#f0ffff" />
<rect x="793" y="792" width="2" height="1" fill="#8c8c8c" />
<rect x="913" y="704" width="1" height="89" fill="#8c8c8c" />
<rect x="912" y="704" width="1" height="89" fill="#f0ffff" />
<rect x="911" y="792" width="2" height="1" fill="#8c8c8c" />
<rect x="1372" y="704" width="1" height="90" fill="#9ab" />
<rect x="0" y="794" width="1373" height="6" fill="#d6d6d6" />
<rect x="1" y="796" width="1372" height="1" fill="#a0a0a0" />
<rect x="1" y="797" width="1372" height="1" fill="#a8a8a8" />
<rect x="2" y="798" width="1371" height="2" fill="#f0f0f0" />
<rect x="1" y="796" width="2" height="4" fill="#a0a0a0" />
<rect x="837" y="796" width="3" height="4" fill="#d6d6d6" />
<rect x="840" y="796" width="2" height="4" fill="#a0a0a0" />
<rect x="1033" y="796" width="3" height="4" fill="#d6d6d6" />
<rect x="1036" y="796" width="2" height="4" fill="#a0a0a0" />
<rect x="1206" y="796" width="3" height="4" fill="#d6d6d6" />
<rect x="1209" y="796" width="2" height="4" fill="#a0a0a0" />
<rect x="1250" y="796" width="3" height="4" fill="#d6d6d6" />
<rect x="1253" y="796" width="2" height="4" fill="#a0a0a0" />
<rect x="1303" y="796" width="3" height="4" fill="#d6d6d6" />
<rect x="1306" y="796" width="2" height="4" fill="#a0a0a0" />
</g>
<text x="9" y="722.4" fill="#000" text-anchor="start" font-size="11" font-weight="bold" class="b">Sensor</text>
<text x="9" y="738.2" fill="#000" text-anchor="start" font-size="11" font-weight="bold" class="b">MinWert</text>
<text x="9" y="753.6" fill="#000" text-anchor="start" font-size="11" font-weight="bold" class="b">MaxWert</text>
<text x="9" y="769.4" fill="#000" text-anchor="start" font-size="11" font-weight="bold" class="b">Durchschnitt</text>
<text x="9" y="785.4" fill="#000" text-anchor="start" font-size="11" font-weight="bold" class="bd">05.07. 23:55</text>
<text x="95" y="722.4" fill="#000" text-anchor="start" font-size="11" font-weight="bold" class="b">Temp. A.</text>
<text x="197.3" y="722.4" fill="#000" text-anchor="end" font-size="11" font-weight="bold" class="b">°C</text>
<text x="101" y="738.2" fill="#000" text-anchor="start" font-size="11" >23:55</text>
<text x="197" y="738.2" fill="#000" text-anchor="end" font-size="11" >13.1</text>
<text x="101" y="753.6" fill="#000" text-anchor="start" font-size="11" >17:45</text>
<text x="197" y="753.6" fill="#000" text-anchor="end" font-size="11" >18.7</text>
<text x="101" y="769.4" fill="#000" text-anchor="start" font-size="11" >( - 0.31 )</text>
<text x="197" y="769.4" fill="#000" text-anchor="end" font-size="11" >16.39</text>
<text x="98" y="785.4" fill="#000" text-anchor="start" font-size="11" >F: 82 %</text>
<text x="197.8" y="785.4" fill="#000" text-anchor="end" font-size="11" font-weight="bold" class="bd">13.1</text>
<text x="213" y="722.4" fill="#000" text-anchor="start" font-size="11" font-weight="bold" class="b">Feuchte A.</text>
<text x="316.3" y="722.4" fill="#000" text-anchor="end" font-size="11" font-weight="bold" class="b">%</text>
<text x="219" y="738.2" fill="#000" text-anchor="start" font-size="11" >20:15</text>
<text x="316" y="738.2" fill="#000" text-anchor="end" font-size="11" >72</text>
<text x="219" y="753.6" fill="#000" text-anchor="start" font-size="11" >05:45</text>
<text x="316" y="753.6" fill="#000" text-anchor="end" font-size="11" >90</text>
<text x="316" y="769.4" fill="#000" text-anchor="end" font-size="11" >82</text>
<text x="216" y="785.4" fill="#000" text-anchor="start" font-size="11" >9.36 g/m³</text>
<text x="316.9" y="785.4" fill="#000" text-anchor="end" font-size="11" font-weight="bold" class="bd">82</text>
<text x="331" y="722.4" fill="#000" text-anchor="start" font-size="11" font-weight="bold" class="b">Luftdruck</text>
<text x="434.8" y="722.4" fill="#000" text-anchor="end" font-size="11" font-weight="bold" class="b">hPa</text>
<text x="337" y="738.2" fill="#000" text-anchor="start" font-size="11" >17:20</text>
<text x="434.5" y="738.2" fill="#000" text-anchor="end" font-size="11" >1014.0</text>
<text x="337" y="753.6" fill="#000" text-anchor="start" font-size="11" >23:55</text>
<text x="434.5" y="753.6" fill="#000" text-anchor="end" font-size="11" >1017.7</text>
<text x="331" y="769.4" fill="#000" text-anchor="start" font-size="11" >^1.0hPa/h</text>
<text x="434.5" y="769.4" fill="#000" text-anchor="end" font-size="11" >1015.3</text>
<text x="331" y="785.4" fill="#000" text-anchor="start" font-size="11" >sonnig</text>
<text x="435.4" y="785.4" fill="#000" text-anchor="end" font-size="11" font-weight="bold" class="bd">1017.7</text>
<rect x="386" y="776" width="8" height="13" fill="#e6eeee" />
<path d="M390 777l3.8 4.6-0.9 0.9-1.9-2.2v6.7h-2v-6.7l-1.9 2.2-0.9-0.9z" fill="#000"/>
<path d="M389.2 779.5v8" stroke="#e08000" stroke-width="0.7"/>
<path d="M391.1 780v7.5" stroke="#2060e0" stroke-width="0.6"/>
<text x="449" y="722.4" fill="#000" text-anchor="start" font-size="11" font-weight="bold" class="b">Wind</text>
<text x="552.3" y="722.4" fill="#000" text-anchor="end" font-size="11" font-weight="bold" class="b">km/h</text>
<text x="449" y="738.2" fill="#000" text-anchor="start" font-size="11" >Ø 10 min.</text>
<text x="552" y="738.2" fill="#000" text-anchor="end" font-size="11" >2.1</text>
<text x="455" y="753.6" fill="#000" text-anchor="start" font-size="11" >19:25</text>
<text x="552" y="753.6" fill="#000" text-anchor="end" font-size="11" >SW 14.7</text>
<text x="455" y="769.4" fill="#000" text-anchor="start" font-size="11" >391.0 km</text>
<text x="552" y="769.4" fill="#000" text-anchor="end" font-size="11" >4.8</text>
<text x="455" y="785.4" fill="#000" text-anchor="start" font-size="11" >1 Bft NW</text>
<text x="552.9" y="785.4" fill="#000" text-anchor="end" font-size="11" font-weight="bold" class="bd">1.7</text>
<text x="567" y="722.4" fill="#000" text-anchor="start" font-size="11" font-weight="bold" class="b">Richtung</text>
<text x="573" y="738.2" fill="#000" text-anchor="start" font-size="11" >11:10</text>
<text x="669.5" y="738.2" fill="#000" text-anchor="end" font-size="11" >N</text>
<text x="573" y="753.6" fill="#000" text-anchor="start" font-size="11" >20:40</text>
<text x="669.5" y="753.6" fill="#000" text-anchor="end" font-size="11" >N</text>
<text x="669.5" y="769.4" fill="#000" text-anchor="end" font-size="11" >S-SW</text>
<text x="570" y="785.4" fill="#000" text-anchor="start" font-size="11" >305 <tspan font-size="9" dy="-1.6">°</tspan></text>
<text x="669.8" y="785.4" fill="#000" text-anchor="end" font-size="11" font-weight="bold" class="b">NW</text>
<text x="685" y="722.4" fill="#000" text-anchor="start" font-size="11" font-weight="bold" class="b">Regen</text>
<text x="788.8" y="722.4" fill="#000" text-anchor="end" font-size="11" font-weight="bold" class="b">l/m²</text>
<text x="685" y="738.2" fill="#000" text-anchor="start" font-size="11" >15 min.</text>
<text x="691" y="753.6" fill="#000" text-anchor="start" font-size="11" >16:00</text>
<text x="788.5" y="753.6" fill="#000" text-anchor="end" font-size="11" >0.4</text>
<text x="685" y="769.4" fill="#000" text-anchor="start" font-size="11" >Gesamt:</text>
<text x="788.5" y="769.4" fill="#000" text-anchor="end" font-size="11" >0.8</text>
<text x="688" y="785.4" fill="#000" text-anchor="start" font-size="11" >0.8 l/m²</text>
<text x="789.4" y="785.4" fill="#000" text-anchor="end" font-size="11" font-weight="bold" class="bd">0.0</text>
<text x="803" y="722.4" fill="#000" text-anchor="start" font-size="11" >Max. Sonnen</text>
<text x="906.5" y="722.4" fill="#000" text-anchor="end" font-size="11" >61,323<tspan font-size="9" dy="-1.6">°</tspan></text>
<text x="803" y="738.2" fill="#000" text-anchor="start" font-size="11" >Sonnen Pos</text>
<text x="906.5" y="738.2" fill="#000" text-anchor="end" font-size="11" >-12,806<tspan font-size="9" dy="-1.6">°</tspan></text>
<text x="803" y="753.6" fill="#000" text-anchor="start" font-size="11" >Neumond</text>
<text x="906.5" y="753.6" fill="#000" text-anchor="end" font-size="11" >02.08.16</text>
<text x="803" y="769.4" fill="#000" text-anchor="start" font-size="11" >Vollmond</text>
<text x="906.5" y="769.4" fill="#000" text-anchor="end" font-size="11" >20.07.16</text>
<text x="803" y="785.4" fill="#000" text-anchor="start" font-size="11" >Mondphase</text>
<text x="906.5" y="785.4" fill="#000" text-anchor="end" font-size="11" >+ 3%</text>
<text x="920.5" y="722.4" fill="#000" text-anchor="start" font-size="11" >Wolkenunterg</text>
<text x="1022.5" y="722.4" fill="#000" text-anchor="end" font-size="11" >462m</text>
<text x="920.5" y="738.2" fill="#000" text-anchor="start" font-size="11" >Sichtweite</text>
<text x="1022.5" y="738.2" fill="#000" text-anchor="end" font-size="11" >6-10km</text>
<text x="920.5" y="753.6" fill="#000" text-anchor="start" font-size="11" >Schneefallgr</text>
<text x="1022.5" y="753.6" fill="#000" text-anchor="end" font-size="11" >2010m</text>
<text x="920.5" y="769.4" fill="#000" text-anchor="start" font-size="11" >Regen/1h</text>
<text x="1022.5" y="769.4" fill="#000" text-anchor="end" font-size="11" >0.0l/m²</text>
<text x="920.5" y="785.4" fill="#000" text-anchor="start" font-size="11" >Sonnenschein</text>
<text x="1022.5" y="785.4" fill="#000" text-anchor="end" font-size="11" >1:40h</text>
<rect x="1373" y="0" width="8" height="800" fill="url(#bl)" />
<rect x="1373" y="0" width="8" height="800" fill="url(#bl2)" />
</svg></body></html>
